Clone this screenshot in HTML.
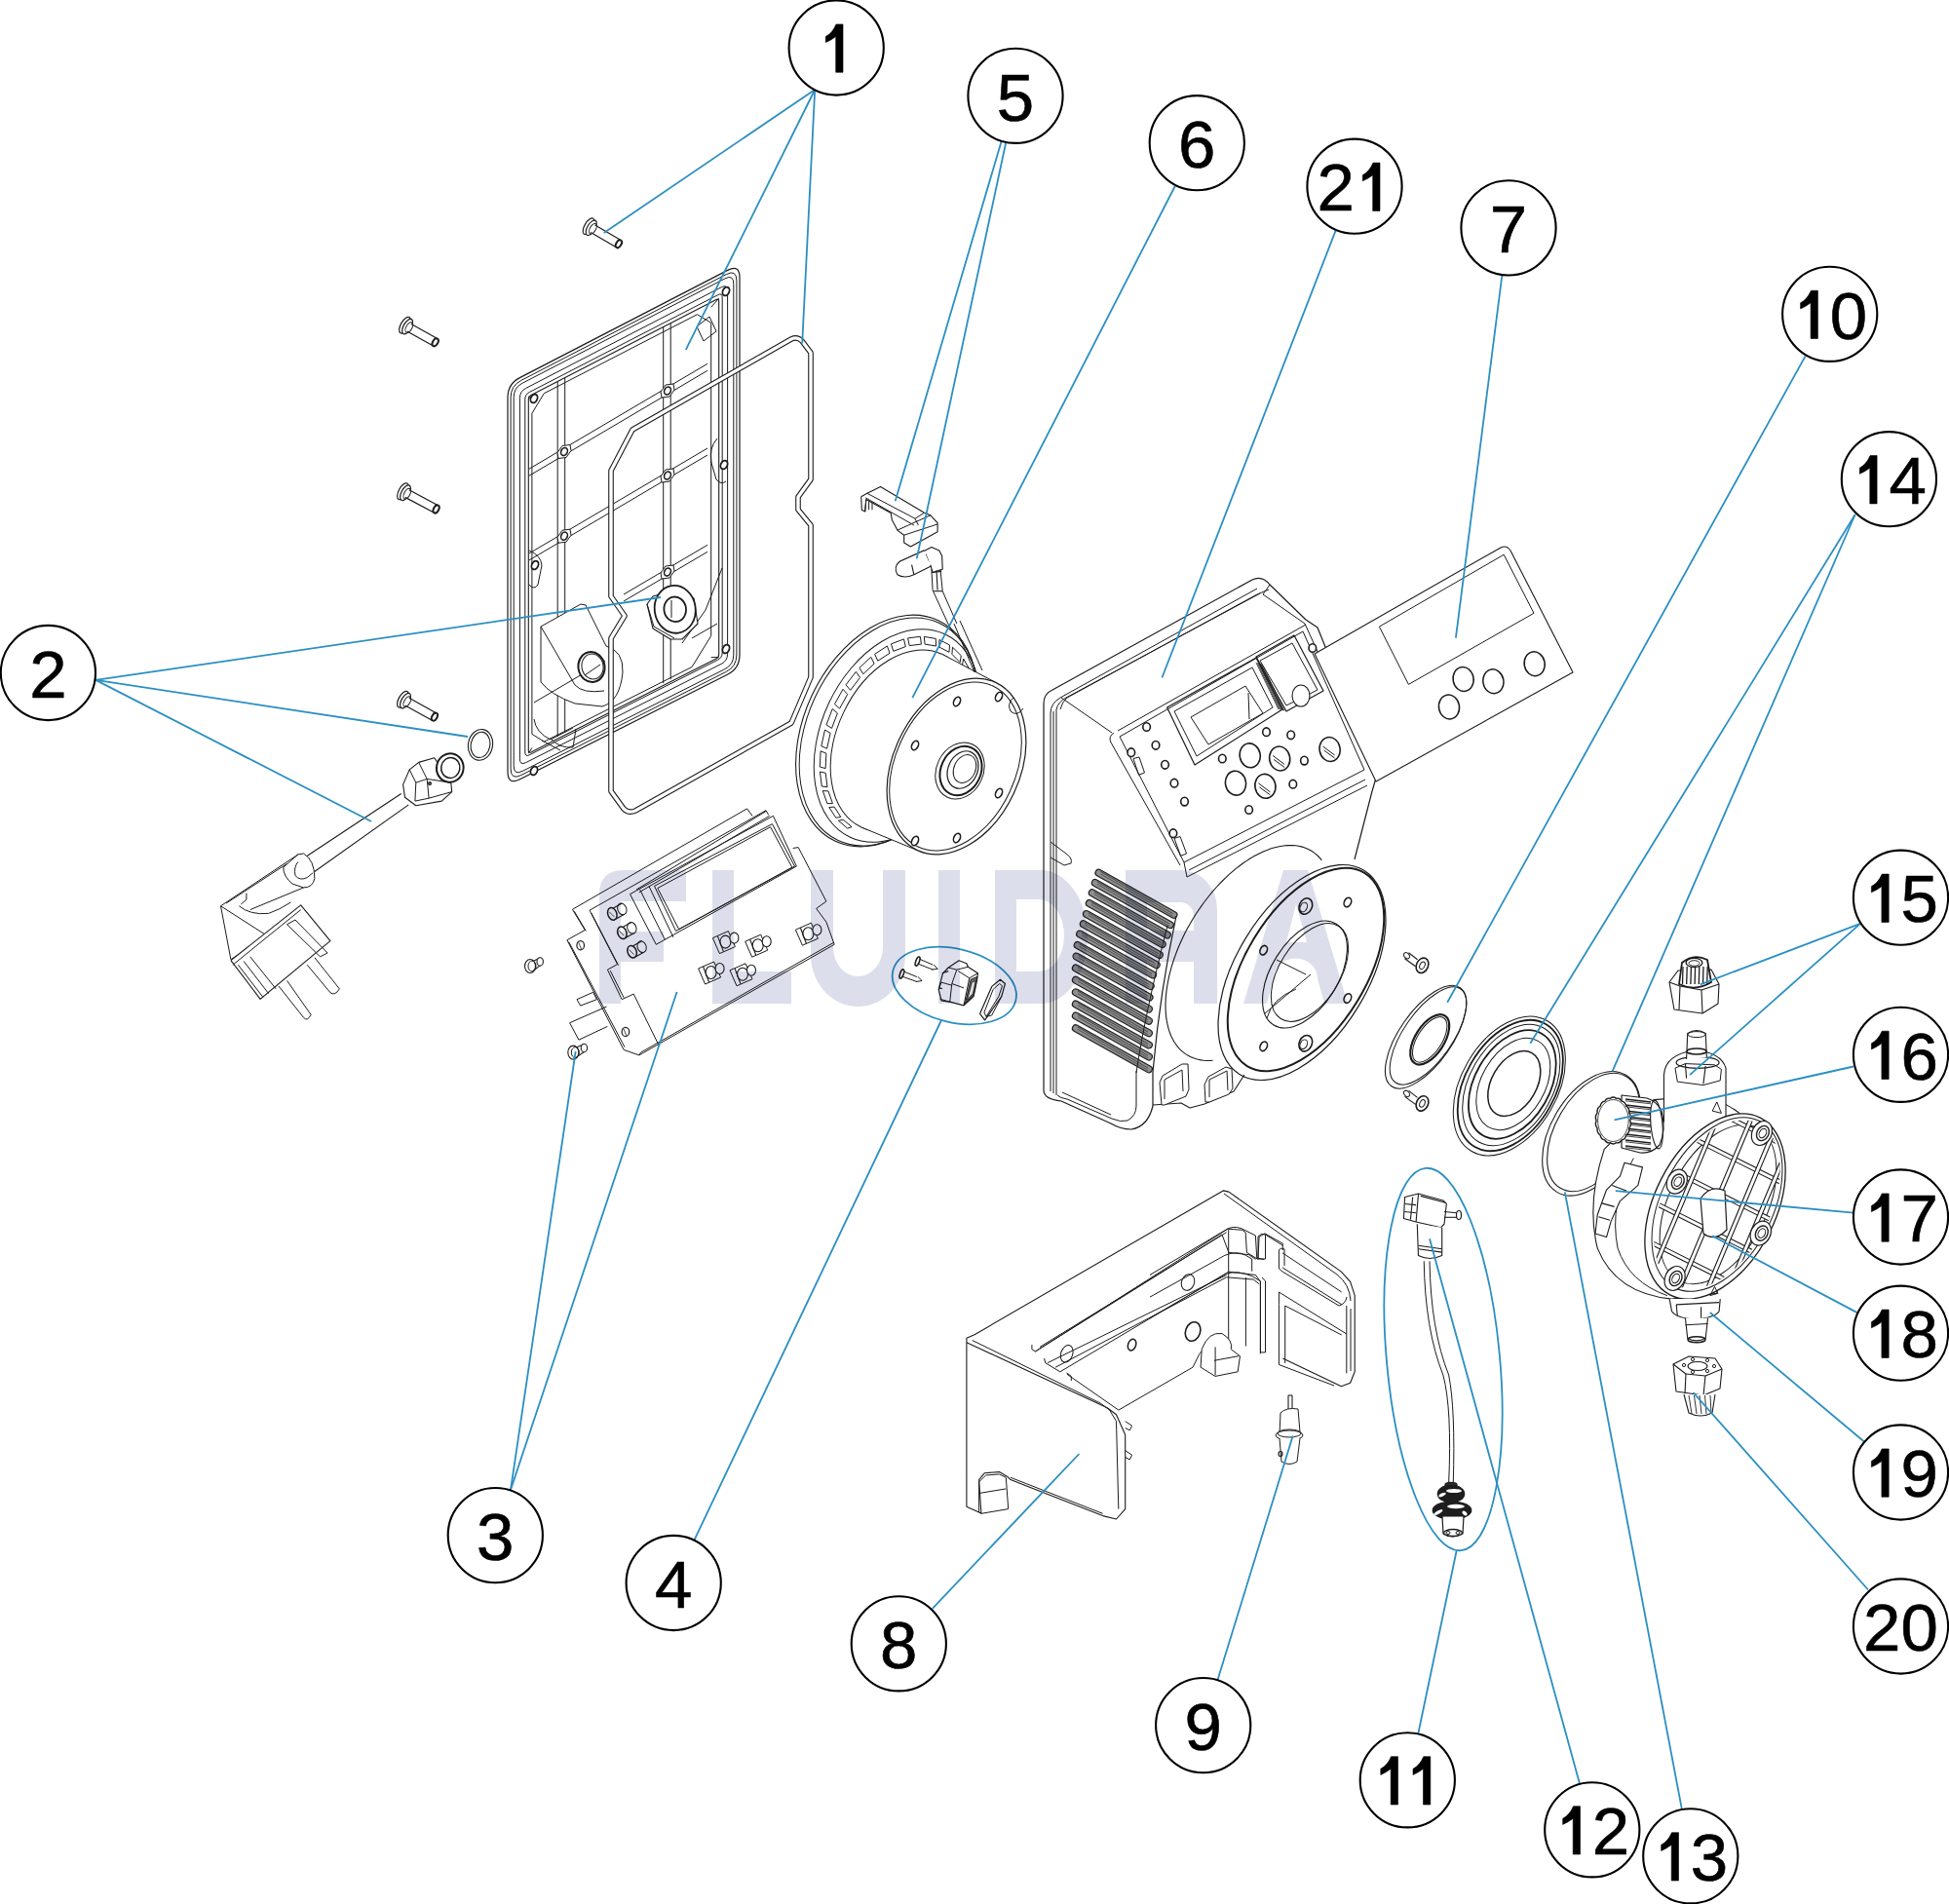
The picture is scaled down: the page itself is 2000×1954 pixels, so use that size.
<!DOCTYPE html><html><head><meta charset="utf-8"><style>html,body{margin:0;padding:0;background:#fff;}svg{display:block;}</style></head><body>
<svg xmlns="http://www.w3.org/2000/svg" width="2000" height="1954" viewBox="0 0 2000 1954" font-family="Liberation Sans">
<rect width="2000" height="1954" fill="#fff"/>
<ellipse cx="604.1" cy="232.2" rx="4.2" ry="9.3" transform="rotate(30.3890939617746 604.1 232.2)" fill="#fff" stroke="#1c1c1c" stroke-width="1.2"/>
<ellipse cx="606.7" cy="233.8" rx="4.0" ry="8.6" transform="rotate(30.3890939617746 606.7 233.8)" fill="#fff" stroke="#1c1c1c" stroke-width="1.2"/>
<ellipse cx="608.4" cy="234.8" rx="3.0" ry="5.8" transform="rotate(30.3890939617746 608.4 234.8)" fill="#fff" stroke="#1c1c1c" stroke-width="1.0"/>
<line x1="606.2" y1="238.5" x2="632.7" y2="254.0" stroke="#1c1c1c" stroke-width="1.2"/>
<line x1="610.6" y1="231.1" x2="637.1" y2="246.6" stroke="#1c1c1c" stroke-width="1.2"/>
<ellipse cx="634.9" cy="250.3" rx="2.6" ry="4.3" transform="rotate(30.3890939617746 634.9 250.3)" fill="#fff" stroke="#1c1c1c" stroke-width="2.0"/>
<ellipse cx="415.5" cy="333.7" rx="4.2" ry="9.3" transform="rotate(29.475889003245808 415.5 333.7)" fill="#fff" stroke="#1c1c1c" stroke-width="1.2"/>
<ellipse cx="418.1" cy="335.1" rx="4.0" ry="8.6" transform="rotate(29.475889003245808 418.1 335.1)" fill="#fff" stroke="#1c1c1c" stroke-width="1.2"/>
<ellipse cx="419.8" cy="336.1" rx="3.0" ry="5.8" transform="rotate(29.475889003245808 419.8 336.1)" fill="#fff" stroke="#1c1c1c" stroke-width="1.0"/>
<line x1="417.7" y1="339.9" x2="444.6" y2="355.0" stroke="#1c1c1c" stroke-width="1.2"/>
<line x1="422.0" y1="332.4" x2="448.8" y2="347.6" stroke="#1c1c1c" stroke-width="1.2"/>
<ellipse cx="446.7" cy="351.3" rx="2.6" ry="4.3" transform="rotate(29.475889003245808 446.7 351.3)" fill="#fff" stroke="#1c1c1c" stroke-width="2.0"/>
<ellipse cx="413.4" cy="504.3" rx="4.2" ry="9.3" transform="rotate(28.00917670801381 413.4 504.3)" fill="#fff" stroke="#1c1c1c" stroke-width="1.2"/>
<ellipse cx="416.0" cy="505.7" rx="4.0" ry="8.6" transform="rotate(28.00917670801381 416.0 505.7)" fill="#fff" stroke="#1c1c1c" stroke-width="1.2"/>
<ellipse cx="417.8" cy="506.6" rx="3.0" ry="5.8" transform="rotate(28.00917670801381 417.8 506.6)" fill="#fff" stroke="#1c1c1c" stroke-width="1.0"/>
<line x1="415.8" y1="510.4" x2="445.6" y2="526.3" stroke="#1c1c1c" stroke-width="1.2"/>
<line x1="419.8" y1="502.8" x2="449.6" y2="518.7" stroke="#1c1c1c" stroke-width="1.2"/>
<ellipse cx="447.6" cy="522.5" rx="2.6" ry="4.3" transform="rotate(28.00917670801381 447.6 522.5)" fill="#fff" stroke="#1c1c1c" stroke-width="2.0"/>
<ellipse cx="413.4" cy="717.7" rx="4.2" ry="9.3" transform="rotate(29.00780657652991 413.4 717.7)" fill="#fff" stroke="#1c1c1c" stroke-width="1.2"/>
<ellipse cx="416.0" cy="719.1" rx="4.0" ry="8.6" transform="rotate(29.00780657652991 416.0 719.1)" fill="#fff" stroke="#1c1c1c" stroke-width="1.2"/>
<ellipse cx="417.8" cy="720.1" rx="3.0" ry="5.8" transform="rotate(29.00780657652991 417.8 720.1)" fill="#fff" stroke="#1c1c1c" stroke-width="1.0"/>
<line x1="415.7" y1="723.9" x2="443.8" y2="739.5" stroke="#1c1c1c" stroke-width="1.2"/>
<line x1="419.8" y1="716.3" x2="448.0" y2="731.9" stroke="#1c1c1c" stroke-width="1.2"/>
<ellipse cx="445.9" cy="735.7" rx="2.6" ry="4.3" transform="rotate(29.00780657652991 445.9 735.7)" fill="#fff" stroke="#1c1c1c" stroke-width="2.0"/>
<path d="M521.0,408.0 Q521.0,394.0 533.4,387.6 L746.6,277.4 Q759.0,271.0 759.0,285.0 L759.0,672.0 Q759.0,686.0 746.5,692.3 L533.5,799.7 Q521.0,806.0 521.0,792.0 Z" fill="#fff" stroke="#1c1c1c" stroke-width="1.2" stroke-linejoin="round"/>
<path d="M524.1,407.9 Q524.1,395.9 534.8,390.4 L745.2,281.6 Q755.9,276.1 755.9,288.1 L755.9,672.0 Q755.9,684.0 745.2,689.4 L534.8,795.5 Q524.1,800.9 524.1,788.9 Z" fill="none" stroke="#1c1c1c" stroke-width="1.0" stroke-linejoin="round"/>
<path d="M527.2,407.8 Q527.2,397.8 536.1,393.2 L743.9,285.9 Q752.8,281.3 752.8,291.3 L752.8,672.1 Q752.8,682.1 743.9,686.6 L536.1,791.4 Q527.2,795.9 527.2,785.9 Z" fill="none" stroke="#1c1c1c" stroke-width="1.0" stroke-linejoin="round"/>
<path d="M533.4,408.6 Q533.4,401.6 539.7,398.4 L740.3,294.7 Q746.6,291.5 746.6,298.5 L746.6,671.2 Q746.6,678.2 740.3,681.3 L539.7,782.6 Q533.4,785.7 533.4,778.7 Z" fill="none" stroke="#1c1c1c" stroke-width="1.0" stroke-linejoin="round"/>
<path d="M538.8,409.8 Q538.8,404.8 543.2,402.5 L736.8,302.6 Q741.2,300.3 741.2,305.3 L741.2,669.8 Q741.2,674.8 736.8,677.1 L543.2,774.8 Q538.8,777.0 538.8,772.0 Z" fill="none" stroke="#1c1c1c" stroke-width="1.0" stroke-linejoin="round"/>
<path d="M542.3,410.0 Q542.3,407.0 545.0,405.6 L735.0,307.6 Q737.7,306.2 737.7,309.2 L737.7,671.6 Q737.7,674.6 735.0,676.0 L545.0,771.9 Q542.3,773.2 542.3,770.2 Z" fill="none" stroke="#1c1c1c" stroke-width="1.1" stroke-linejoin="round"/>
<polygon points="545.9,424.2 558.3,403.7 715.5,322.7 729.7,331.3 729.7,652.6 710.0,684.5 558.4,761.1 545.9,753.4" fill="none" stroke="#1c1c1c" stroke-width="1.0" stroke-linejoin="round"/>
<line x1="542.3" y1="407.0" x2="545.9" y2="410.2" stroke="#1c1c1c" stroke-width="1.0"/>
<line x1="737.7" y1="306.2" x2="729.7" y2="315.3" stroke="#1c1c1c" stroke-width="1.0"/>
<line x1="737.7" y1="674.6" x2="729.7" y2="674.6" stroke="#1c1c1c" stroke-width="1.0"/>
<line x1="542.3" y1="773.2" x2="545.9" y2="767.4" stroke="#1c1c1c" stroke-width="1.0"/>
<line x1="572.2" y1="391.9" x2="572.2" y2="755.8" stroke="#1c1c1c" stroke-width="1.0"/>
<line x1="579.7" y1="388.0" x2="579.7" y2="752.0" stroke="#1c1c1c" stroke-width="1.0"/>
<line x1="680.7" y1="336.0" x2="680.7" y2="701.0" stroke="#1c1c1c" stroke-width="1.0"/>
<line x1="688.2" y1="332.1" x2="688.2" y2="697.2" stroke="#1c1c1c" stroke-width="1.0"/>
<line x1="543.0" y1="481.2" x2="726.0" y2="373.3" stroke="#1c1c1c" stroke-width="1.0"/>
<line x1="543.0" y1="488.2" x2="726.0" y2="380.3" stroke="#1c1c1c" stroke-width="1.0"/>
<line x1="543.0" y1="567.9" x2="726.0" y2="460.0" stroke="#1c1c1c" stroke-width="1.0"/>
<line x1="543.0" y1="574.9" x2="726.0" y2="467.0" stroke="#1c1c1c" stroke-width="1.0"/>
<line x1="640.0" y1="610.0" x2="726.0" y2="559.3" stroke="#1c1c1c" stroke-width="1.0"/>
<line x1="640.0" y1="617.0" x2="726.0" y2="566.3" stroke="#1c1c1c" stroke-width="1.0"/>
<polygon points="572.0,464.5 577.0,457.5 585.0,456.5 586.0,462.5 581.0,469.5 573.0,470.5" fill="#fff" stroke="#1c1c1c" stroke-width="1.0" stroke-linejoin="round"/>
<ellipse cx="579.0" cy="463.5" rx="3.2" ry="4.2" transform="rotate(25 579.0 463.5)" fill="#fff" stroke="#1c1c1c" stroke-width="1.6"/>
<polygon points="572.0,551.2 577.0,544.2 585.0,543.2 586.0,549.2 581.0,556.2 573.0,557.2" fill="#fff" stroke="#1c1c1c" stroke-width="1.0" stroke-linejoin="round"/>
<ellipse cx="579.0" cy="550.2" rx="3.2" ry="4.2" transform="rotate(25 579.0 550.2)" fill="#fff" stroke="#1c1c1c" stroke-width="1.6"/>
<polygon points="678.0,402.0 683.0,395.0 691.0,394.0 692.0,400.0 687.0,407.0 679.0,408.0" fill="#fff" stroke="#1c1c1c" stroke-width="1.0" stroke-linejoin="round"/>
<ellipse cx="685.0" cy="401.0" rx="3.2" ry="4.2" transform="rotate(25 685.0 401.0)" fill="#fff" stroke="#1c1c1c" stroke-width="1.6"/>
<polygon points="678.0,489.0 683.0,482.0 691.0,481.0 692.0,487.0 687.0,494.0 679.0,495.0" fill="#fff" stroke="#1c1c1c" stroke-width="1.0" stroke-linejoin="round"/>
<ellipse cx="685.0" cy="488.0" rx="3.2" ry="4.2" transform="rotate(25 685.0 488.0)" fill="#fff" stroke="#1c1c1c" stroke-width="1.6"/>
<polygon points="678.0,588.0 683.0,581.0 691.0,580.0 692.0,586.0 687.0,593.0 679.0,594.0" fill="#fff" stroke="#1c1c1c" stroke-width="1.0" stroke-linejoin="round"/>
<ellipse cx="685.0" cy="587.0" rx="3.2" ry="4.2" transform="rotate(25 685.0 587.0)" fill="#fff" stroke="#1c1c1c" stroke-width="1.6"/>
<ellipse cx="548.0" cy="409.0" rx="3.3" ry="4.6" transform="rotate(25 548.0 409.0)" fill="#fff" stroke="#1c1c1c" stroke-width="1.8"/>
<ellipse cx="745.0" cy="299.0" rx="3.3" ry="4.6" transform="rotate(25 745.0 299.0)" fill="#fff" stroke="#1c1c1c" stroke-width="1.8"/>
<ellipse cx="548.0" cy="791.0" rx="3.3" ry="4.6" transform="rotate(25 548.0 791.0)" fill="#fff" stroke="#1c1c1c" stroke-width="1.8"/>
<ellipse cx="745.0" cy="666.0" rx="3.3" ry="4.6" transform="rotate(25 745.0 666.0)" fill="#fff" stroke="#1c1c1c" stroke-width="1.8"/>
<ellipse cx="549.0" cy="580.0" rx="3.3" ry="4.6" transform="rotate(25 549.0 580.0)" fill="#fff" stroke="#1c1c1c" stroke-width="1.8"/>
<ellipse cx="743.0" cy="477.0" rx="3.3" ry="4.6" transform="rotate(25 743.0 477.0)" fill="#fff" stroke="#1c1c1c" stroke-width="1.8"/>
<path d="M543,565 Q555,570 556,580 L552,600 Q548,606 543,600" fill="none" stroke="#1c1c1c" stroke-width="1.0" stroke-linejoin="round"/>
<path d="M736,450 Q727,460 730,475 L735,492 Q740,498 745,494" fill="none" stroke="#1c1c1c" stroke-width="1.0" stroke-linejoin="round"/>
<polygon points="715.0,335.0 728.0,325.0 735.0,340.0 722.0,350.0" fill="none" stroke="#1c1c1c" stroke-width="1.0" stroke-linejoin="round"/>
<path d="M555,643 L596,620 L601,621 L622,663 Q640,668 639,690 Q636,720 618,725 L590,722 Q565,713 555,700 Z" fill="#fff" stroke="#1c1c1c" stroke-width="1.0" stroke-linejoin="round"/>
<path d="M555,643 L590,703 Q598,712 620,709" fill="none" stroke="#1c1c1c" stroke-width="1.0" stroke-linejoin="round"/>
<path d="M548,721 L621,678" fill="none" stroke="#1c1c1c" stroke-width="1.0" stroke-linejoin="round"/>
<path d="M548,738 Q550,752 565,759 L588,747" fill="none" stroke="#1c1c1c" stroke-width="1.0" stroke-linejoin="round"/>
<path d="M566,759 Q575,768 588,767 L591,748" fill="none" stroke="#1c1c1c" stroke-width="1.0" stroke-linejoin="round"/>
<line x1="556.0" y1="760.0" x2="575.0" y2="770.0" stroke="#1c1c1c" stroke-width="1.0"/>
<ellipse cx="607.0" cy="684.5" rx="13.5" ry="15.5" transform="rotate(-10 607.0 684.5)" fill="#fff" stroke="#1c1c1c" stroke-width="2.0"/>
<ellipse cx="608.0" cy="684.0" rx="11.0" ry="13.0" transform="rotate(-10 608.0 684.0)" fill="none" stroke="#1c1c1c" stroke-width="1.0"/>
<line x1="600.0" y1="693.0" x2="616.0" y2="682.0" stroke="#1c1c1c" stroke-width="1.0"/>
<path d="M741,583 L724,626 L700,660" fill="none" stroke="#1c1c1c" stroke-width="1.0" stroke-linejoin="round"/>
<path d="M710,655 L736,640" fill="none" stroke="#1c1c1c" stroke-width="1.0" stroke-linejoin="round"/>
<path d="M664,620 L670,612 L690,606 L712,614 L716,640 L700,656 L688,656 L670,645 Z" fill="#fff" stroke="#1c1c1c" stroke-width="1.1" stroke-linejoin="round"/>
<line x1="664.0" y1="620.0" x2="671.0" y2="643.0" stroke="#1c1c1c" stroke-width="1.0"/>
<line x1="671.0" y1="643.0" x2="692.0" y2="655.0" stroke="#1c1c1c" stroke-width="1.0"/>
<ellipse cx="692.7" cy="625.3" rx="21.0" ry="24.5" transform="rotate(-8 692.7 625.3)" fill="#fff" stroke="#1c1c1c" stroke-width="1.8"/>
<ellipse cx="692.7" cy="625.3" rx="11.3" ry="12.8" transform="rotate(-8 692.7 625.3)" fill="#fff" stroke="#1c1c1c" stroke-width="1.8"/>
<line x1="689.0" y1="616.0" x2="689.0" y2="634.0" stroke="#1c1c1c" stroke-width="1.0"/>
<path d="M649,441 L812,348 Q818,345 823,350 L832,362 L832,492 L819,510 L819,523 L832,539 L832,695 L812,742 L652,832 Q645,835 640,830 L627,812 L627,655 L641,632 L627,612 L627,483 Z" fill="none" stroke="#1c1c1c" stroke-width="5.6" stroke-linejoin="round" stroke-linecap="round"/>
<path d="M649,441 L812,348 Q818,345 823,350 L832,362 L832,492 L819,510 L819,523 L832,539 L832,695 L812,742 L652,832 Q645,835 640,830 L627,812 L627,655 L641,632 L627,612 L627,483 Z" fill="none" stroke="#fff" stroke-width="3.4" stroke-linejoin="round" stroke-linecap="round"/>
<ellipse cx="493.0" cy="764.4" rx="12.5" ry="16.0" transform="rotate(10 493.0 764.4)" fill="none" stroke="#1c1c1c" stroke-width="1.1"/>
<ellipse cx="493.0" cy="764.4" rx="9.8" ry="13.2" transform="rotate(10 493.0 764.4)" fill="none" stroke="#1c1c1c" stroke-width="1.1"/>
<polygon points="413.6,805.1 420.2,789.9 429.7,782.4 445.7,777.7 462.8,803.2 463.7,812.6 453.3,822.1 426.8,826.8 415.5,818.3" fill="#fff" stroke="#1c1c1c" stroke-width="1.1" stroke-linejoin="round"/>
<polyline points="420.2,789.9 426.8,803.2 425.9,822.1" fill="none" stroke="#1c1c1c" stroke-width="1.0" stroke-linejoin="round"/>
<polyline points="429.7,782.4 438.2,799.4 440.1,819.2" fill="none" stroke="#1c1c1c" stroke-width="1.0" stroke-linejoin="round"/>
<polyline points="426.8,803.2 438.2,799.4 462.8,803.2" fill="none" stroke="#1c1c1c" stroke-width="1.0" stroke-linejoin="round"/>
<polyline points="425.9,822.1 440.1,819.2 463.7,812.6" fill="none" stroke="#1c1c1c" stroke-width="1.0" stroke-linejoin="round"/>
<ellipse cx="441.0" cy="804.1" rx="1.3" ry="1.3" transform="rotate(0 441.0 804.1)" fill="none" stroke="#1c1c1c" stroke-width="1.5"/>
<ellipse cx="461.8" cy="788.0" rx="13.8" ry="14.8" transform="rotate(10 461.8 788.0)" fill="#fff" stroke="#1c1c1c" stroke-width="2.0"/>
<ellipse cx="462.3" cy="788.0" rx="9.6" ry="10.5" transform="rotate(10 462.3 788.0)" fill="#fff" stroke="#1c1c1c" stroke-width="1.5"/>
<line x1="411.7" y1="814.5" x2="305.9" y2="884.5" stroke="#1c1c1c" stroke-width="1.1"/>
<line x1="419.3" y1="825.9" x2="321.0" y2="895.8" stroke="#1c1c1c" stroke-width="1.1"/>
<path d="M305.86011342155007,876.8998109640831 L311.531190926276,875.9546313799622 Q322.8733459357278,882.570888468809 322.8733459357278,901.4744801512287 Q320.98298676748584,910.9262759924386 311.531190926276,910.9262759924386 L300.1890359168242,907.1455576559547 Q290.73724007561435,899.5841209829867 290.73724007561435,890.132325141777 Z" fill="#fff" stroke="#1c1c1c" stroke-width="1.0" stroke-linejoin="round"/>
<path d="M305.86011342155007,884.461247637051 Q301.1342155009452,890.132325141777 303.02457466918713,898.6389413988658 Q307.750472589792,904.3100189035916 315.3119092627599,900.5293005671077 L320.98298676748584,895.8034026465028" fill="none" stroke="#1c1c1c" stroke-width="1.0" stroke-linejoin="round"/>
<polyline points="226.5,929.8 305.9,876.9" fill="none" stroke="#1c1c1c" stroke-width="1.0" stroke-linejoin="round"/>
<polyline points="232.1,927.0 294.5,886.4" fill="none" stroke="#1c1c1c" stroke-width="1.0" stroke-linejoin="round"/>
<polyline points="252.9,916.6 252.9,923.2 247.3,927.9" fill="none" stroke="#1c1c1c" stroke-width="1.0" stroke-linejoin="round"/>
<polyline points="256.7,933.6 311.5,910.9" fill="none" stroke="#1c1c1c" stroke-width="1.0" stroke-linejoin="round"/>
<path d="M245.36862003780718,929.8298676748582 Q256.71077504725895,939.2816635160681 275.61436672967864,937.3913043478261 Q286.95652173913044,933.6105860113421 298.29867674858224,926.0491493383743" fill="none" stroke="#1c1c1c" stroke-width="1.0" stroke-linejoin="round"/>
<polyline points="226.5,929.8 236.9,984.7 273.7,960.1 226.5,929.8" fill="none" stroke="#1c1c1c" stroke-width="1.0" stroke-linejoin="round"/>
<polyline points="236.9,985.6 308.7,928.9 338.9,965.7 267.1,1025.3 236.9,985.6" fill="#fff" stroke="#1c1c1c" stroke-width="1.1" stroke-linejoin="round"/>
<polyline points="238.8,990.3 308.7,933.6" fill="none" stroke="#1c1c1c" stroke-width="1.0" stroke-linejoin="round"/>
<polyline points="244.4,990.3 269.9,1023.4" fill="none" stroke="#1c1c1c" stroke-width="1.0" stroke-linejoin="round"/>
<polyline points="250.1,986.5 275.6,1019.6" fill="none" stroke="#1c1c1c" stroke-width="1.0" stroke-linejoin="round"/>
<polyline points="256.7,981.8 283.2,1014.9" fill="none" stroke="#1c1c1c" stroke-width="1.0" stroke-linejoin="round"/>
<polyline points="294.5,948.7 303.0,944.0 336.1,978.0 328.5,981.8 294.5,948.7" fill="none" stroke="#1c1c1c" stroke-width="1.0" stroke-linejoin="round"/>
<path d="M286.01134215500946,1012.0604914933838 L311.531190926276,1044.196597353497 Q315.3119092627599,1048.922495274102 319.0926275992439,1041.3610586011341 L294.5179584120983,1006.3894139886579" fill="#fff" stroke="#1c1c1c" stroke-width="1.0" stroke-linejoin="round"/>
<path d="M315.3119092627599,990.3213610586012 L338.9413988657845,1018.6767485822306 Q343.66729678638944,1022.4574669187145 348.39319470699434,1014.8960302457467 L322.8733459357278,982.7599243856332" fill="#fff" stroke="#1c1c1c" stroke-width="1.0" stroke-linejoin="round"/>
<polyline points="813.7,870.5 819.2,869.6 847.9,925.0 837.7,932.4 847.9,946.2 856.2,969.3 655.8,1082.9 640.1,1077.4 581.9,964.7 600.3,954.5 587.4,933.3 766.6,829.9 772.1,837.3" fill="none" stroke="#1c1c1c" stroke-width="1.0" stroke-linejoin="round"/>
<polyline points="583.7,966.6 641.0,1074.6" fill="none" stroke="#1c1c1c" stroke-width="1.0" stroke-linejoin="round"/>
<polyline points="589.3,935.2 601.3,955.5" fill="none" stroke="#1c1c1c" stroke-width="1.0" stroke-linejoin="round"/>
<polyline points="655.8,1082.9 657.6,1080.1 855.2,967.5" fill="none" stroke="#1c1c1c" stroke-width="1.0" stroke-linejoin="round"/>
<polyline points="786.0,831.7 605.0,934.2 633.6,989.6 623.4,995.2 638.2,1025.7 650.2,1020.1 676.1,1072.8" fill="none" stroke="#1c1c1c" stroke-width="1.0" stroke-linejoin="round"/>
<polyline points="606.8,937.0 634.5,990.6" fill="none" stroke="#1c1c1c" stroke-width="1.0" stroke-linejoin="round"/>
<polyline points="626.2,996.1 640.1,1023.8" fill="none" stroke="#1c1c1c" stroke-width="1.0" stroke-linejoin="round"/>
<polyline points="786.0,831.7 788.7,836.3" fill="none" stroke="#1c1c1c" stroke-width="1.0" stroke-linejoin="round"/>
<polyline points="646.5,917.6 793.4,837.3 817.4,889.0 673.3,969.3 646.5,917.6" fill="none" stroke="#1c1c1c" stroke-width="1.0" stroke-linejoin="round"/>
<polyline points="653.0,913.0 786.0,832.6" fill="none" stroke="#1c1c1c" stroke-width="1.0" stroke-linejoin="round"/>
<polyline points="655.8,915.8 789.7,837.3" fill="none" stroke="#1c1c1c" stroke-width="1.0" stroke-linejoin="round"/>
<polyline points="656.7,913.0 682.5,964.7" fill="none" stroke="#1c1c1c" stroke-width="1.0" stroke-linejoin="round"/>
<polyline points="665.9,909.3 690.9,961.9" fill="none" stroke="#1c1c1c" stroke-width="1.0" stroke-linejoin="round"/>
<polyline points="671.5,909.3 792.4,845.6 815.5,889.0 693.6,955.5 671.5,909.3" fill="none" stroke="#1c1c1c" stroke-width="1.0" stroke-linejoin="round"/>
<polyline points="674.8,911.5 790.6,848.7 812.8,890.1 696.6,953.6 674.8,911.5" fill="none" stroke="#1c1c1c" stroke-width="1.0" stroke-linejoin="round"/>
<ellipse cx="628.3" cy="937.9" rx="4.5" ry="6.5" transform="rotate(-20 628.3 937.9)" fill="#fff" stroke="#1c1c1c" stroke-width="1.5"/>
<ellipse cx="638.3" cy="932.9" rx="4.5" ry="6.0" transform="rotate(-20 638.3 932.9)" fill="#fff" stroke="#1c1c1c" stroke-width="1.0"/>
<line x1="629.3" y1="931.9" x2="638.3" y2="926.9" stroke="#1c1c1c" stroke-width="1.1"/>
<line x1="631.3" y1="943.4" x2="640.3" y2="938.4" stroke="#1c1c1c" stroke-width="1.1"/>
<line x1="625.3" y1="935.9" x2="630.3" y2="940.9" stroke="#1c1c1c" stroke-width="0.8"/>
<ellipse cx="638.4" cy="957.3" rx="4.5" ry="6.5" transform="rotate(-20 638.4 957.3)" fill="#fff" stroke="#1c1c1c" stroke-width="1.5"/>
<ellipse cx="648.4" cy="952.3" rx="4.5" ry="6.0" transform="rotate(-20 648.4 952.3)" fill="#fff" stroke="#1c1c1c" stroke-width="1.0"/>
<line x1="639.4" y1="951.3" x2="648.4" y2="946.3" stroke="#1c1c1c" stroke-width="1.1"/>
<line x1="641.4" y1="962.8" x2="650.4" y2="957.8" stroke="#1c1c1c" stroke-width="1.1"/>
<line x1="635.4" y1="955.3" x2="640.4" y2="960.3" stroke="#1c1c1c" stroke-width="0.8"/>
<ellipse cx="648.6" cy="976.7" rx="4.5" ry="6.5" transform="rotate(-20 648.6 976.7)" fill="#fff" stroke="#1c1c1c" stroke-width="1.5"/>
<ellipse cx="658.6" cy="971.7" rx="4.5" ry="6.0" transform="rotate(-20 658.6 971.7)" fill="#fff" stroke="#1c1c1c" stroke-width="1.0"/>
<line x1="649.6" y1="970.7" x2="658.6" y2="965.7" stroke="#1c1c1c" stroke-width="1.1"/>
<line x1="651.6" y1="982.2" x2="660.6" y2="977.2" stroke="#1c1c1c" stroke-width="1.1"/>
<line x1="645.6" y1="974.7" x2="650.6" y2="979.7" stroke="#1c1c1c" stroke-width="0.8"/>
<polygon points="731.4,962.6 747.4,955.6 754.4,971.6 738.4,978.6" fill="none" stroke="#1c1c1c" stroke-width="1.0" stroke-linejoin="round"/>
<line x1="736.4" y1="960.6" x2="742.4" y2="976.6" stroke="#1c1c1c" stroke-width="1.1"/>
<ellipse cx="744.4" cy="966.6" rx="5.5" ry="6.5" transform="rotate(0 744.4 966.6)" fill="none" stroke="#1c1c1c" stroke-width="1.1"/>
<ellipse cx="753.4" cy="962.6" rx="4.5" ry="5.5" transform="rotate(0 753.4 962.6)" fill="#fff" stroke="#1c1c1c" stroke-width="1.1"/>
<polygon points="764.7,966.2 780.7,959.2 787.7,975.2 771.7,982.2" fill="none" stroke="#1c1c1c" stroke-width="1.0" stroke-linejoin="round"/>
<line x1="769.7" y1="964.2" x2="775.7" y2="980.2" stroke="#1c1c1c" stroke-width="1.1"/>
<ellipse cx="777.7" cy="970.2" rx="5.5" ry="6.5" transform="rotate(0 777.7 970.2)" fill="none" stroke="#1c1c1c" stroke-width="1.1"/>
<ellipse cx="786.7" cy="966.2" rx="4.5" ry="5.5" transform="rotate(0 786.7 966.2)" fill="#fff" stroke="#1c1c1c" stroke-width="1.1"/>
<polygon points="816.4,954.2 832.4,947.2 839.4,963.2 823.4,970.2" fill="none" stroke="#1c1c1c" stroke-width="1.0" stroke-linejoin="round"/>
<line x1="821.4" y1="952.2" x2="827.4" y2="968.2" stroke="#1c1c1c" stroke-width="1.1"/>
<ellipse cx="829.4" cy="958.2" rx="5.5" ry="6.5" transform="rotate(0 829.4 958.2)" fill="none" stroke="#1c1c1c" stroke-width="1.1"/>
<ellipse cx="838.4" cy="954.2" rx="4.5" ry="5.5" transform="rotate(0 838.4 954.2)" fill="#fff" stroke="#1c1c1c" stroke-width="1.1"/>
<polygon points="716.6,994.0 732.6,987.0 739.6,1003.0 723.6,1010.0" fill="none" stroke="#1c1c1c" stroke-width="1.0" stroke-linejoin="round"/>
<line x1="721.6" y1="992.0" x2="727.6" y2="1008.0" stroke="#1c1c1c" stroke-width="1.1"/>
<ellipse cx="729.6" cy="998.0" rx="5.5" ry="6.5" transform="rotate(0 729.6 998.0)" fill="none" stroke="#1c1c1c" stroke-width="1.1"/>
<ellipse cx="738.6" cy="994.0" rx="4.5" ry="5.5" transform="rotate(0 738.6 994.0)" fill="#fff" stroke="#1c1c1c" stroke-width="1.1"/>
<polygon points="749.0,995.8 765.0,988.8 772.0,1004.8 756.0,1011.8" fill="none" stroke="#1c1c1c" stroke-width="1.0" stroke-linejoin="round"/>
<line x1="754.0" y1="993.8" x2="760.0" y2="1009.8" stroke="#1c1c1c" stroke-width="1.1"/>
<ellipse cx="762.0" cy="999.8" rx="5.5" ry="6.5" transform="rotate(0 762.0 999.8)" fill="none" stroke="#1c1c1c" stroke-width="1.1"/>
<ellipse cx="771.0" cy="995.8" rx="4.5" ry="5.5" transform="rotate(0 771.0 995.8)" fill="#fff" stroke="#1c1c1c" stroke-width="1.1"/>
<ellipse cx="595.7" cy="970.2" rx="3.8" ry="4.6" transform="rotate(0 595.7 970.2)" fill="none" stroke="#1c1c1c" stroke-width="1.2"/>
<line x1="593.7" y1="967.2" x2="596.7" y2="974.2" stroke="#1c1c1c" stroke-width="0.8"/>
<ellipse cx="641.9" cy="1058.9" rx="3.8" ry="4.6" transform="rotate(0 641.9 1058.9)" fill="none" stroke="#1c1c1c" stroke-width="1.2"/>
<line x1="639.9" y1="1055.9" x2="642.9" y2="1062.9" stroke="#1c1c1c" stroke-width="0.8"/>
<polyline points="592.0,1025.7 608.7,1018.3 612.4,1025.7 595.7,1032.1 592.0,1025.7" fill="none" stroke="#1c1c1c" stroke-width="1.0" stroke-linejoin="round"/>
<polyline points="622.5,1033.0 584.6,1049.7 593.9,1067.2 623.4,1053.4" fill="none" stroke="#1c1c1c" stroke-width="1.0" stroke-linejoin="round"/>
<ellipse cx="544.0" cy="991.5" rx="5.5" ry="7.0" transform="rotate(0 544.0 991.5)" fill="#fff" stroke="#1c1c1c" stroke-width="1.1"/>
<ellipse cx="546.0" cy="991.5" rx="4.0" ry="5.5" transform="rotate(0 546.0 991.5)" fill="none" stroke="#1c1c1c" stroke-width="1.0"/>
<line x1="547.0" y1="986.5" x2="554.2" y2="982.9" stroke="#1c1c1c" stroke-width="1.1"/>
<line x1="547.0" y1="996.5" x2="554.2" y2="990.9" stroke="#1c1c1c" stroke-width="1.1"/>
<ellipse cx="554.2" cy="986.9" rx="3.2" ry="4.2" transform="rotate(0 554.2 986.9)" fill="#fff" stroke="#1c1c1c" stroke-width="1.1"/>
<ellipse cx="588.3" cy="1080.1" rx="5.5" ry="7.0" transform="rotate(0 588.3 1080.1)" fill="#fff" stroke="#1c1c1c" stroke-width="1.1"/>
<ellipse cx="590.3" cy="1080.1" rx="4.0" ry="5.5" transform="rotate(0 590.3 1080.1)" fill="none" stroke="#1c1c1c" stroke-width="1.0"/>
<line x1="591.3" y1="1075.1" x2="599.4" y2="1071.5" stroke="#1c1c1c" stroke-width="1.1"/>
<line x1="591.3" y1="1085.1" x2="599.4" y2="1079.5" stroke="#1c1c1c" stroke-width="1.1"/>
<ellipse cx="599.4" cy="1075.5" rx="3.2" ry="4.2" transform="rotate(0 599.4 1075.5)" fill="#fff" stroke="#1c1c1c" stroke-width="1.1"/>
<ellipse cx="979.3" cy="1011.5" rx="64.8" ry="37.7" transform="rotate(13.7 979.3 1011.5)" fill="none" stroke="#2b8fc2" stroke-width="1.8"/>
<ellipse cx="941.6" cy="986.6" rx="1.8" ry="4.8" transform="rotate(20.790725274414843 941.6 986.6)" fill="#fff" stroke="#1c1c1c" stroke-width="1.6"/>
<line x1="941.7" y1="989.0" x2="957.3" y2="995.1" stroke="#1c1c1c" stroke-width="1.0"/>
<line x1="943.5" y1="984.2" x2="957.3" y2="990.2" stroke="#1c1c1c" stroke-width="1.0"/>
<path d="M956.4,995.1 L962.3,994.2 L958.2,990.3" fill="none" stroke="#1c1c1c" stroke-width="1.0" stroke-linejoin="round"/>
<ellipse cx="925.4" cy="999.5" rx="1.8" ry="4.8" transform="rotate(19.167123400485774 925.4 999.5)" fill="#fff" stroke="#1c1c1c" stroke-width="1.6"/>
<line x1="925.5" y1="1002.0" x2="941.1" y2="1007.5" stroke="#1c1c1c" stroke-width="1.0"/>
<line x1="927.3" y1="997.0" x2="941.1" y2="1002.6" stroke="#1c1c1c" stroke-width="1.0"/>
<path d="M940.2,1007.5 L946.1,1006.5 L942.0,1002.5" fill="none" stroke="#1c1c1c" stroke-width="1.0" stroke-linejoin="round"/>
<polyline points="967.5,998.8 973.2,993.0 984.0,985.8 991.9,988.7 993.3,992.3 1003.4,998.8 1002.7,1005.2 999.1,1022.5 989.0,1031.8 974.7,1028.2 966.0,1026.8 963.2,1015.3 967.5,998.8" fill="#fff" stroke="#1c1c1c" stroke-width="1.2" stroke-linejoin="round"/>
<polyline points="973.2,993.0 981.8,995.2 976.8,1009.5 974.7,1028.2" fill="none" stroke="#1c1c1c" stroke-width="1.0" stroke-linejoin="round"/>
<polyline points="981.8,995.2 993.3,992.3" fill="none" stroke="#1c1c1c" stroke-width="1.0" stroke-linejoin="round"/>
<polyline points="983.3,996.6 994.8,1003.8 1003.4,998.8" fill="none" stroke="#1c1c1c" stroke-width="1.0" stroke-linejoin="round"/>
<polyline points="994.8,1003.8 989.0,1031.8" fill="none" stroke="#1c1c1c" stroke-width="1.1" stroke-linejoin="round"/>
<polyline points="976.8,1009.5 989.0,1013.9" fill="none" stroke="#1c1c1c" stroke-width="1.0" stroke-linejoin="round"/>
<polyline points="966.0,1008.1 976.1,1011.0" fill="none" stroke="#1c1c1c" stroke-width="1.0" stroke-linejoin="round"/>
<polyline points="966.0,1008.1 963.2,1015.3" fill="none" stroke="#1c1c1c" stroke-width="1.0" stroke-linejoin="round"/>
<polyline points="964.6,1025.3 974.7,1028.2" fill="none" stroke="#1c1c1c" stroke-width="1.0" stroke-linejoin="round"/>
<polyline points="996.2,1005.2 1002.7,1002.4 999.1,1021.0 990.5,1029.7 996.2,1005.2" fill="#6a6a6a" stroke="#1c1c1c" stroke-width="1.0" stroke-linejoin="round"/>
<polyline points="997.3,1008.1 1001.2,1006.7 998.4,1019.6 992.6,1026.1 997.3,1008.1" fill="#ddd" stroke="#1c1c1c" stroke-width="0.8" stroke-linejoin="round"/>
<line x1="966.8" y1="998.8" x2="973.2" y2="996.6" stroke="#1c1c1c" stroke-width="1.2"/>
<line x1="963.2" y1="1013.9" x2="966.8" y2="1014.6" stroke="#1c1c1c" stroke-width="1.2"/>
<polyline points="1005.5,1040.4 1017.8,1012.4 1026.4,1005.2 1031.4,1009.5 1027.8,1022.5 1010.6,1046.9 1005.5,1040.4" fill="#fff" stroke="#1c1c1c" stroke-width="1.2" stroke-linejoin="round"/>
<polyline points="1009.9,1039.0 1019.2,1015.3 1025.7,1009.5 1028.5,1011.7 1024.9,1022.5 1012.0,1043.3 1009.9,1039.0" fill="none" stroke="#1c1c1c" stroke-width="1.0" stroke-linejoin="round"/>
<polyline points="1012.0,1043.3 1017.8,1041.9 1027.8,1022.5" fill="none" stroke="#1c1c1c" stroke-width="1.0" stroke-linejoin="round"/>
<ellipse cx="910.0" cy="750.0" rx="85.0" ry="125.0" transform="rotate(25 910.0 750.0)" fill="#fff" stroke="#1c1c1c" stroke-width="1.1"/>
<ellipse cx="912.0" cy="751.0" rx="83.5" ry="123.0" transform="rotate(25 912.0 751.0)" fill="none" stroke="#1c1c1c" stroke-width="1.0"/>
<ellipse cx="921.0" cy="755.0" rx="78.0" ry="115.0" transform="rotate(25 921.0 755.0)" fill="none" stroke="#1c1c1c" stroke-width="1.0"/>
<ellipse cx="925.0" cy="760.0" rx="66.0" ry="98.0" transform="rotate(25 925.0 760.0)" fill="none" stroke="#1c1c1c" stroke-width="1.0"/>
<polygon points="869.6,850.1 874.1,848.7 865.3,841.2 860.4,842.2" fill="none" stroke="#1c1c1c" stroke-width="1.0" stroke-linejoin="round"/>
<polygon points="857.8,839.3 862.8,838.4 856.1,828.1 850.8,828.5" fill="none" stroke="#1c1c1c" stroke-width="1.0" stroke-linejoin="round"/>
<polygon points="848.9,824.7 854.4,824.5 850.0,811.9 844.3,811.5" fill="none" stroke="#1c1c1c" stroke-width="1.0" stroke-linejoin="round"/>
<polygon points="843.3,807.0 849.0,807.7 847.2,793.3 841.4,792.0" fill="none" stroke="#1c1c1c" stroke-width="1.0" stroke-linejoin="round"/>
<polygon points="841.3,787.0 847.1,788.6 847.9,773.2 842.1,770.8" fill="none" stroke="#1c1c1c" stroke-width="1.0" stroke-linejoin="round"/>
<polygon points="842.8,765.7 848.6,768.2 852.1,752.4 846.5,749.0" fill="none" stroke="#1c1c1c" stroke-width="1.0" stroke-linejoin="round"/>
<polygon points="848.0,743.8 853.5,747.4 859.4,731.9 854.2,727.5" fill="none" stroke="#1c1c1c" stroke-width="1.0" stroke-linejoin="round"/>
<polygon points="856.5,722.6 861.6,727.1 869.7,712.6 865.0,707.3" fill="none" stroke="#1c1c1c" stroke-width="1.0" stroke-linejoin="round"/>
<polygon points="868.0,702.8 872.6,708.3 882.5,695.4 878.4,689.3" fill="none" stroke="#1c1c1c" stroke-width="1.0" stroke-linejoin="round"/>
<polygon points="881.9,685.4 885.8,691.7 897.1,681.1 893.7,674.3" fill="none" stroke="#1c1c1c" stroke-width="1.0" stroke-linejoin="round"/>
<polygon points="897.6,671.3 900.8,678.2 913.0,670.3 910.4,663.0" fill="none" stroke="#1c1c1c" stroke-width="1.0" stroke-linejoin="round"/>
<polygon points="914.4,660.9 916.8,668.3 929.3,663.6 927.5,655.9" fill="none" stroke="#1c1c1c" stroke-width="1.0" stroke-linejoin="round"/>
<polygon points="931.6,654.9 933.2,662.6 945.4,661.1 944.4,653.3" fill="none" stroke="#1c1c1c" stroke-width="1.0" stroke-linejoin="round"/>
<polygon points="948.3,653.4 949.1,661.1 960.5,663.0 960.3,655.4" fill="none" stroke="#1c1c1c" stroke-width="1.0" stroke-linejoin="round"/>
<polygon points="963.9,656.5 963.9,664.1 974.0,669.3 974.5,662.0" fill="none" stroke="#1c1c1c" stroke-width="1.0" stroke-linejoin="round"/>
<polygon points="977.5,664.2 976.9,671.4 985.2,679.7 986.3,672.8" fill="none" stroke="#1c1c1c" stroke-width="1.0" stroke-linejoin="round"/>
<polygon points="988.6,676.0 987.5,682.7 993.7,693.6 995.1,687.4" fill="none" stroke="#1c1c1c" stroke-width="1.0" stroke-linejoin="round"/>
<polygon points="966.5,671.2 1021.7,700.4 1021.7,700.4 1024.8,702.0 1027.7,703.8 1030.4,705.8 1033.1,708.1 1035.6,710.5 1038.0,713.2 1040.2,716.0 1042.2,719.1 1044.1,722.4 1045.8,725.8 1047.3,729.4 1048.6,733.1 1049.8,737.0 1050.8,741.0 1051.6,745.2 1052.2,749.4 1052.6,753.8 1052.8,758.2 1052.8,762.8 1052.6,767.4 1052.2,772.0 1051.6,776.7 1050.9,781.4 1049.9,786.2 1048.8,790.9 1047.4,795.6 1045.9,800.3 1044.2,805.0 1042.4,809.6 1040.3,814.1 1038.2,818.6 1035.8,822.9 1033.3,827.2 1030.7,831.4 1027.9,835.4 1025.0,839.3 1022.0,843.1 1018.9,846.7 1015.7,850.2 1012.3,853.4 1008.9,856.5 1005.5,859.4 1001.9,862.1 998.3,864.6 994.7,866.9 991.0,868.9 987.3,870.7 983.5,872.3 979.8,873.7 976.1,874.8 972.4,875.7 968.7,876.3 965.0,876.7 961.4,876.9 957.9,876.8 954.4,876.4 951.0,875.8 947.6,875.0 944.4,873.9 941.3,872.6 883.5,848.8" fill="#fff" stroke="none" stroke-width="0" stroke-linejoin="round"/>
<line x1="966.5" y1="671.2" x2="1021.7" y2="700.4" stroke="#1c1c1c" stroke-width="1.0"/>
<line x1="883.5" y1="848.8" x2="941.3" y2="872.6" stroke="#1c1c1c" stroke-width="1.0"/>
<ellipse cx="981.5" cy="786.5" rx="65.0" ry="95.0" transform="rotate(25 981.5 786.5)" fill="#fff" stroke="#1c1c1c" stroke-width="1.2"/>
<ellipse cx="980.5" cy="786.5" rx="61.5" ry="91.0" transform="rotate(25 980.5 786.5)" fill="none" stroke="#1c1c1c" stroke-width="1.0"/>
<path d="M1040,716 Q1033,722 1037,730 Q1044,736 1050,727" fill="none" stroke="#1c1c1c" stroke-width="1.0" stroke-linejoin="round"/>
<ellipse cx="985.0" cy="791.0" rx="24.0" ry="30.0" transform="rotate(25 985.0 791.0)" fill="none" stroke="#1c1c1c" stroke-width="1.0"/>
<ellipse cx="986.0" cy="791.0" rx="20.5" ry="26.0" transform="rotate(25 986.0 791.0)" fill="none" stroke="#1c1c1c" stroke-width="2.0"/>
<ellipse cx="988.0" cy="790.0" rx="15.0" ry="20.0" transform="rotate(25 988.0 790.0)" fill="none" stroke="#1c1c1c" stroke-width="1.2"/>
<ellipse cx="990.0" cy="789.0" rx="11.0" ry="15.0" transform="rotate(25 990.0 789.0)" fill="none" stroke="#1c1c1c" stroke-width="1.0"/>
<ellipse cx="982.0" cy="720.0" rx="3.2" ry="5.0" transform="rotate(25 982.0 720.0)" fill="#fff" stroke="#1c1c1c" stroke-width="1.6"/>
<ellipse cx="1025.0" cy="715.0" rx="3.2" ry="5.0" transform="rotate(25 1025.0 715.0)" fill="#fff" stroke="#1c1c1c" stroke-width="1.6"/>
<ellipse cx="939.0" cy="765.0" rx="3.2" ry="5.0" transform="rotate(25 939.0 765.0)" fill="#fff" stroke="#1c1c1c" stroke-width="1.6"/>
<ellipse cx="1025.0" cy="814.0" rx="3.2" ry="5.0" transform="rotate(25 1025.0 814.0)" fill="#fff" stroke="#1c1c1c" stroke-width="1.6"/>
<ellipse cx="939.0" cy="863.0" rx="3.2" ry="5.0" transform="rotate(25 939.0 863.0)" fill="#fff" stroke="#1c1c1c" stroke-width="1.6"/>
<ellipse cx="982.0" cy="860.0" rx="3.2" ry="5.0" transform="rotate(25 982.0 860.0)" fill="#fff" stroke="#1c1c1c" stroke-width="1.6"/>
<polyline points="883.7,509.7 884.3,523.2 887.7,524.9 888.8,512.5 914.2,526.6 915.3,533.4 920.9,544.1 927.7,549.2 927.7,557.1 934.5,561.0 962.1,545.8 962.1,536.7 954.8,528.8 948.0,526.0 943.5,523.2 903.5,499.5 889.9,506.3 883.7,509.7" fill="#fff" stroke="#1c1c1c" stroke-width="1.1" stroke-linejoin="round"/>
<polyline points="889.9,506.3 939.0,532.2 948.0,526.6" fill="none" stroke="#1c1c1c" stroke-width="1.0" stroke-linejoin="round"/>
<polyline points="888.2,510.8 937.9,539.0" fill="none" stroke="#1c1c1c" stroke-width="1.0" stroke-linejoin="round"/>
<polyline points="920.9,544.1 954.8,528.8" fill="none" stroke="#1c1c1c" stroke-width="1.0" stroke-linejoin="round"/>
<polyline points="927.7,549.2 962.1,537.9" fill="none" stroke="#1c1c1c" stroke-width="1.0" stroke-linejoin="round"/>
<polyline points="939.0,532.2 942.4,539.0" fill="none" stroke="#1c1c1c" stroke-width="1.0" stroke-linejoin="round"/>
<polyline points="888.8,512.5 887.7,524.9" fill="none" stroke="#1c1c1c" stroke-width="1.0" stroke-linejoin="round"/>
<polyline points="891.6,514.2 891.6,523.2" fill="none" stroke="#1c1c1c" stroke-width="1.0" stroke-linejoin="round"/>
<polyline points="895.0,515.3 895.0,523.2" fill="none" stroke="#1c1c1c" stroke-width="1.0" stroke-linejoin="round"/>
<path d="M948.0,565.0 L923.2,576.3" fill="none" stroke="#1c1c1c" stroke-width="1.0" stroke-linejoin="round"/>
<path d="M948.0361173814898,564.9661399548532 L923.2054176072235,576.252821670429 Q916.4334085778781,581.8961625282167 920.9480812641084,589.7968397291197 Q927.7200902934537,594.3115124153499 937.8781038374718,589.7968397291197 L955.9367945823927,580.7674943566592 L953.6794582392777,566.0948081264108 Z" fill="#fff" stroke="#1c1c1c" stroke-width="1.1" stroke-linejoin="round"/>
<line x1="937.9" y1="589.8" x2="935.6" y2="579.6" stroke="#1c1c1c" stroke-width="1.1"/>
<line x1="950.3" y1="568.4" x2="953.7" y2="576.3" stroke="#1c1c1c" stroke-width="1.1"/>
<path d="M949.1647855530474,564.9661399548532 L955.9367945823927,561.5801354401806 L963.8374717832958,564.9661399548532 L966.6591422121896,570.6094808126411 L967.2234762979684,584.1534988713319 L957.0654627539503,587.5395033860045 L954.8081264108353,579.6388261851016" fill="#fff" stroke="#1c1c1c" stroke-width="1.1" stroke-linejoin="round"/>
<path d="M955.9367945823927,584.1534988713319 L957.0654627539503,605.5981941309255 L972.8668171557562,640.0225733634311 L978.510158013544,649.6162528216704" fill="none" stroke="#1c1c1c" stroke-width="1.0" stroke-linejoin="round"/>
<path d="M964.9661399548532,584.1534988713319 L967.2234762979684,606.7268623024831 L981.8961625282167,640.0225733634311" fill="none" stroke="#1c1c1c" stroke-width="1.0" stroke-linejoin="round"/>
<line x1="961.0" y1="585.3" x2="962.1" y2="605.6" stroke="#1c1c1c" stroke-width="1.1"/>
<line x1="955.9" y1="587.5" x2="966.1" y2="586.4" stroke="#1c1c1c" stroke-width="1.1"/>
<line x1="958.2" y1="606.7" x2="967.2" y2="606.7" stroke="#1c1c1c" stroke-width="1.1"/>
<path d="M979,640 L1000,690" fill="none" stroke="#1c1c1c" stroke-width="1.0" stroke-linejoin="round"/>
<path d="M985,637 L1008,688" fill="none" stroke="#1c1c1c" stroke-width="1.0" stroke-linejoin="round"/>
<path d="M1071,1119 L1071,722 Q1071,712 1080,708 L1285,595 Q1295,590 1303,600 L1340,636 L1352,644 L1413,795 L1408,812 L1388,888 L1300,880 L1230,930 L1196,1010 L1205,1060 L1240,1092 L1230,1135 L1200,1148 L1165,1158 Q1150,1160 1140,1154 L1089,1130 Q1071,1125 1071,1119 Z" fill="#fff" stroke="none" stroke-width="0" stroke-linejoin="round"/>
<path d="M1071,1119 L1071,722 Q1071,712 1080,708 L1285,595 Q1295,590 1303,600 L1340,636 L1352,644 L1413,795 L1408,812 L1390,882" fill="none" stroke="#1c1c1c" stroke-width="1.2" stroke-linejoin="round"/>
<polyline points="1356.3,882.8 1354.5,880.6 1352.5,878.5 1350.4,876.6 1348.1,874.9 1345.8,873.3 1343.4,871.9 1340.8,870.7 1338.2,869.7 1335.4,868.9 1332.6,868.3 1329.6,867.8 1326.6,867.6 1323.5,867.5 1320.4,867.6 1317.1,868.0 1313.9,868.5 1310.5,869.2 1307.1,870.0 1303.7,871.1 1300.2,872.4 1296.7,873.8 1293.2,875.4 1289.7,877.2 1286.1,879.1 1282.5,881.3 1279.0,883.6 1275.4,886.0 1271.8,888.7 1268.3,891.4 1264.8,894.4 1261.3,897.4 1257.9,900.6 1254.5,904.0 1251.1,907.4 1247.8,911.0 1244.6,914.7 1241.4,918.5 1238.3,922.5 1235.2,926.5 1232.3,930.6 1229.4,934.7 1226.6,939.0 1224.0,943.3 1221.4,947.7 1218.9,952.1 1216.5,956.6 1214.3,961.1 1212.1,965.7 1210.1,970.2 1208.2,974.8 1206.5,979.4 1204.8,984.0 1203.3,988.6 1201.9,993.1 1200.7,997.6 1199.6,1002.1 1198.7,1006.6 1197.9,1011.0 1197.2,1015.3 1196.7,1019.6 1196.3,1023.8 1196.1,1028.0 1196.0,1032.0 1196.1,1036.0 1196.3,1039.8 1196.7,1043.6 1197.2,1047.2 1197.9,1050.7 1198.7,1054.1 1199.6,1057.4 1200.7,1060.5 1201.9,1063.5 1203.3,1066.3 1204.8,1069.0 1206.5,1071.5 1208.2,1073.9 1210.1,1076.1 1212.1,1078.1 1214.3,1079.9 1216.5,1081.6 1218.9,1083.1 1221.4,1084.4 1224.0,1085.6 1226.7,1086.5 1229.4,1087.3 1232.3,1087.9 1235.3,1088.3 1238.3,1088.5 1241.4,1088.5 1244.6,1088.3" fill="none" stroke="#1c1c1c" stroke-width="1.1" stroke-linejoin="round"/>
<line x1="1078.0" y1="732.0" x2="1078.0" y2="1120.0" stroke="#1c1c1c" stroke-width="1.0"/>
<line x1="1084.0" y1="728.0" x2="1084.0" y2="1124.0" stroke="#1c1c1c" stroke-width="1.0"/>
<path d="M1078,732 Q1078,722 1088,716 L1290,604" fill="none" stroke="#1c1c1c" stroke-width="1.0" stroke-linejoin="round"/>
<path d="M1084,728 Q1086,720 1094,716 L1293,609" fill="none" stroke="#1c1c1c" stroke-width="1.0" stroke-linejoin="round"/>
<path d="M1302,605 L1290,610 L1095,716 Q1090,720 1088,728" fill="none" stroke="#1c1c1c" stroke-width="1.0" stroke-linejoin="round"/>
<line x1="1303.0" y1="600.0" x2="1296.0" y2="610.0" stroke="#1c1c1c" stroke-width="1.0"/>
<line x1="1296.0" y1="610.0" x2="1339.0" y2="640.0" stroke="#1c1c1c" stroke-width="1.0"/>
<line x1="1339.0" y1="640.0" x2="1407.0" y2="790.0" stroke="#1c1c1c" stroke-width="1.0"/>
<path d="M1143,752 Q1137,756 1140,762 L1211,888" fill="none" stroke="#1c1c1c" stroke-width="1.0" stroke-linejoin="round"/>
<path d="M1147,750 L1340,641" fill="none" stroke="#1c1c1c" stroke-width="1.0" stroke-linejoin="round"/>
<path d="M1149,756 L1337,648 L1400,790 L1215,885 L1149,756" fill="none" stroke="#1c1c1c" stroke-width="1.0" stroke-linejoin="round"/>
<line x1="1215.0" y1="885.0" x2="1218.0" y2="900.0" stroke="#1c1c1c" stroke-width="1.0"/>
<line x1="1218.0" y1="900.0" x2="1403.0" y2="806.0" stroke="#1c1c1c" stroke-width="1.0"/>
<line x1="1220.0" y1="893.0" x2="1401.0" y2="800.0" stroke="#1c1c1c" stroke-width="1.0"/>
<polygon points="1197.6,726.0 1289.0,675.0 1316.0,728.0 1226.0,785.0" fill="none" stroke="#1c1c1c" stroke-width="1.2" stroke-linejoin="round"/>
<polygon points="1205.0,730.0 1285.0,685.0 1306.0,726.0 1228.0,776.0" fill="none" stroke="#1c1c1c" stroke-width="1.0" stroke-linejoin="round"/>
<polygon points="1222.0,736.0 1278.0,704.0 1296.0,732.0 1240.0,764.0" fill="none" stroke="#1c1c1c" stroke-width="1.0" stroke-linejoin="round"/>
<line x1="1281.0" y1="711.0" x2="1282.0" y2="738.0" stroke="#1c1c1c" stroke-width="1.0"/>
<polygon points="1289.0,674.0 1328.0,652.0 1358.0,709.0 1320.0,730.0" fill="none" stroke="#1c1c1c" stroke-width="1.2" stroke-linejoin="round"/>
<polygon points="1293.0,678.0 1326.0,660.0 1352.0,708.0 1320.0,724.0" fill="none" stroke="#1c1c1c" stroke-width="1.0" stroke-linejoin="round"/>
<line x1="1289.0" y1="680.0" x2="1312.0" y2="728.0" stroke="#1c1c1c" stroke-width="0.8"/>
<line x1="1290.2" y1="680.3" x2="1313.2" y2="728.3" stroke="#1c1c1c" stroke-width="0.8"/>
<line x1="1291.4" y1="680.6" x2="1314.4" y2="728.6" stroke="#1c1c1c" stroke-width="0.8"/>
<line x1="1292.6" y1="680.9" x2="1315.6" y2="728.9" stroke="#1c1c1c" stroke-width="0.8"/>
<line x1="1293.8" y1="681.2" x2="1316.8" y2="729.2" stroke="#1c1c1c" stroke-width="0.8"/>
<line x1="1295.0" y1="681.5" x2="1318.0" y2="729.5" stroke="#1c1c1c" stroke-width="0.8"/>
<ellipse cx="1335.0" cy="714.0" rx="9.0" ry="11.0" transform="rotate(0 1335.0 714.0)" fill="#fff" stroke="#1c1c1c" stroke-width="1.1"/>
<ellipse cx="1282.7" cy="775.3" rx="10.5" ry="12.5" transform="rotate(-10 1282.7 775.3)" fill="#fff" stroke="#1c1c1c" stroke-width="1.6"/>
<ellipse cx="1313.2" cy="778.5" rx="10.5" ry="12.5" transform="rotate(-10 1313.2 778.5)" fill="#fff" stroke="#1c1c1c" stroke-width="1.6"/>
<line x1="1306.2" y1="775.5" x2="1318.2" y2="784.5" stroke="#1c1c1c" stroke-width="1.0"/>
<line x1="1307.2" y1="779.5" x2="1318.2" y2="787.5" stroke="#1c1c1c" stroke-width="1.0"/>
<ellipse cx="1268.0" cy="803.7" rx="10.5" ry="12.5" transform="rotate(-10 1268.0 803.7)" fill="#fff" stroke="#1c1c1c" stroke-width="1.6"/>
<ellipse cx="1298.4" cy="806.8" rx="10.5" ry="12.5" transform="rotate(-10 1298.4 806.8)" fill="#fff" stroke="#1c1c1c" stroke-width="1.6"/>
<line x1="1291.4" y1="803.8" x2="1303.4" y2="812.8" stroke="#1c1c1c" stroke-width="1.0"/>
<line x1="1292.4" y1="807.8" x2="1303.4" y2="815.8" stroke="#1c1c1c" stroke-width="1.0"/>
<ellipse cx="1364.6" cy="769.0" rx="10.5" ry="12.5" transform="rotate(-10 1364.6 769.0)" fill="#fff" stroke="#1c1c1c" stroke-width="1.6"/>
<line x1="1357.6" y1="766.0" x2="1369.6" y2="775.0" stroke="#1c1c1c" stroke-width="1.0"/>
<line x1="1358.6" y1="770.0" x2="1369.6" y2="778.0" stroke="#1c1c1c" stroke-width="1.0"/>
<ellipse cx="1176.6" cy="746.0" rx="3.8" ry="4.3" transform="rotate(0 1176.6 746.0)" fill="#fff" stroke="#1c1c1c" stroke-width="1.6"/>
<ellipse cx="1186.0" cy="764.8" rx="3.8" ry="4.3" transform="rotate(0 1186.0 764.8)" fill="#fff" stroke="#1c1c1c" stroke-width="1.6"/>
<ellipse cx="1195.5" cy="784.8" rx="3.8" ry="4.3" transform="rotate(0 1195.5 784.8)" fill="#fff" stroke="#1c1c1c" stroke-width="1.6"/>
<ellipse cx="1205.0" cy="803.7" rx="3.8" ry="4.3" transform="rotate(0 1205.0 803.7)" fill="#fff" stroke="#1c1c1c" stroke-width="1.6"/>
<ellipse cx="1215.5" cy="822.6" rx="3.8" ry="4.3" transform="rotate(0 1215.5 822.6)" fill="#fff" stroke="#1c1c1c" stroke-width="1.6"/>
<ellipse cx="1160.8" cy="772.2" rx="3.8" ry="4.3" transform="rotate(0 1160.8 772.2)" fill="#fff" stroke="#1c1c1c" stroke-width="1.6"/>
<ellipse cx="1254.3" cy="778.5" rx="3.8" ry="4.3" transform="rotate(0 1254.3 778.5)" fill="#fff" stroke="#1c1c1c" stroke-width="1.6"/>
<ellipse cx="1299.5" cy="751.2" rx="3.8" ry="4.3" transform="rotate(0 1299.5 751.2)" fill="#fff" stroke="#1c1c1c" stroke-width="1.6"/>
<ellipse cx="1324.7" cy="754.3" rx="3.8" ry="4.3" transform="rotate(0 1324.7 754.3)" fill="#fff" stroke="#1c1c1c" stroke-width="1.6"/>
<ellipse cx="1338.4" cy="780.6" rx="3.8" ry="4.3" transform="rotate(0 1338.4 780.6)" fill="#fff" stroke="#1c1c1c" stroke-width="1.6"/>
<ellipse cx="1326.8" cy="804.7" rx="3.8" ry="4.3" transform="rotate(0 1326.8 804.7)" fill="#fff" stroke="#1c1c1c" stroke-width="1.6"/>
<ellipse cx="1281.6" cy="831.0" rx="3.8" ry="4.3" transform="rotate(0 1281.6 831.0)" fill="#fff" stroke="#1c1c1c" stroke-width="1.6"/>
<ellipse cx="1203.9" cy="855.2" rx="3.8" ry="4.3" transform="rotate(0 1203.9 855.2)" fill="#fff" stroke="#1c1c1c" stroke-width="1.6"/>
<ellipse cx="1346.8" cy="665.0" rx="3.8" ry="4.3" transform="rotate(0 1346.8 665.0)" fill="#fff" stroke="#1c1c1c" stroke-width="1.6"/>
<polygon points="1163.0,778.5 1169.0,777.0 1174.5,793.0 1168.5,795.3" fill="none" stroke="#1c1c1c" stroke-width="1.0" stroke-linejoin="round"/>
<polygon points="1205.0,860.4 1211.0,858.5 1217.6,876.0 1211.6,878.3" fill="none" stroke="#1c1c1c" stroke-width="1.0" stroke-linejoin="round"/>
<path d="M1078,864 L1094,876 Q1101,881 1099,886 L1092,888 L1078,880" fill="none" stroke="#1c1c1c" stroke-width="1.0" stroke-linejoin="round"/>
<path d="M1125.8,898.7 L1202.8,941.8 A3.4,3.4 0 0 0 1206.2,935.9 L1129.2,892.7 A3.4,3.4 0 0 0 1125.8,898.7 Z" fill="#8f8f8f" stroke="#222" stroke-width="1.2" stroke-linejoin="round"/>
<line x1="1129.5" y1="894.5" x2="1203.5" y2="937.6" stroke="#333" stroke-width="0.8"/>
<line x1="1129.5" y1="896.9" x2="1203.5" y2="940.0" stroke="#444" stroke-width="0.8"/>
<path d="M1122.1,909.0 L1199.1,952.1 A3.4,3.4 0 0 0 1202.5,946.2 L1125.5,903.0 A3.4,3.4 0 0 0 1122.1,909.0 Z" fill="#8f8f8f" stroke="#222" stroke-width="1.2" stroke-linejoin="round"/>
<line x1="1125.8" y1="904.8" x2="1199.8" y2="947.9" stroke="#333" stroke-width="0.8"/>
<line x1="1125.8" y1="907.2" x2="1199.8" y2="950.3" stroke="#444" stroke-width="0.8"/>
<path d="M1119.1,919.3 L1196.1,962.4 A3.4,3.4 0 0 0 1199.5,956.5 L1122.5,913.3 A3.4,3.4 0 0 0 1119.1,919.3 Z" fill="#8f8f8f" stroke="#222" stroke-width="1.2" stroke-linejoin="round"/>
<line x1="1122.8" y1="915.1" x2="1196.8" y2="958.2" stroke="#333" stroke-width="0.8"/>
<line x1="1122.8" y1="917.5" x2="1196.8" y2="960.6" stroke="#444" stroke-width="0.8"/>
<path d="M1116.1,930.1 L1191.1,972.1 A3.4,3.4 0 0 0 1194.5,966.1 L1119.5,924.1 A3.4,3.4 0 0 0 1116.1,930.1 Z" fill="#8f8f8f" stroke="#222" stroke-width="1.2" stroke-linejoin="round"/>
<line x1="1119.8" y1="925.9" x2="1191.8" y2="967.9" stroke="#333" stroke-width="0.8"/>
<line x1="1119.8" y1="928.3" x2="1191.8" y2="970.3" stroke="#444" stroke-width="0.8"/>
<path d="M1113.1,941.0 L1188.1,983.0 A3.4,3.4 0 0 0 1191.5,977.0 L1116.5,935.0 A3.4,3.4 0 0 0 1113.1,941.0 Z" fill="#8f8f8f" stroke="#222" stroke-width="1.2" stroke-linejoin="round"/>
<line x1="1116.8" y1="936.8" x2="1188.8" y2="978.8" stroke="#333" stroke-width="0.8"/>
<line x1="1116.8" y1="939.2" x2="1188.8" y2="981.2" stroke="#444" stroke-width="0.8"/>
<path d="M1110.0,951.3 L1185.0,993.3 A3.4,3.4 0 0 0 1188.4,987.3 L1113.4,945.3 A3.4,3.4 0 0 0 1110.0,951.3 Z" fill="#8f8f8f" stroke="#222" stroke-width="1.2" stroke-linejoin="round"/>
<line x1="1113.7" y1="947.1" x2="1185.7" y2="989.1" stroke="#333" stroke-width="0.8"/>
<line x1="1113.7" y1="949.5" x2="1185.7" y2="991.5" stroke="#444" stroke-width="0.8"/>
<path d="M1106.4,961.5 L1181.4,1003.5 A3.4,3.4 0 0 0 1184.8,997.5 L1109.8,955.5 A3.4,3.4 0 0 0 1106.4,961.5 Z" fill="#8f8f8f" stroke="#222" stroke-width="1.2" stroke-linejoin="round"/>
<line x1="1110.1" y1="957.3" x2="1182.1" y2="999.3" stroke="#333" stroke-width="0.8"/>
<line x1="1110.1" y1="959.7" x2="1182.1" y2="1001.7" stroke="#444" stroke-width="0.8"/>
<path d="M1104.0,973.0 L1179.0,1015.0 A3.4,3.4 0 0 0 1182.4,1009.0 L1107.4,967.0 A3.4,3.4 0 0 0 1104.0,973.0 Z" fill="#8f8f8f" stroke="#222" stroke-width="1.2" stroke-linejoin="round"/>
<line x1="1107.7" y1="968.8" x2="1179.7" y2="1010.8" stroke="#333" stroke-width="0.8"/>
<line x1="1107.7" y1="971.2" x2="1179.7" y2="1013.2" stroke="#444" stroke-width="0.8"/>
<path d="M1102.8,984.5 L1177.8,1026.5 A3.4,3.4 0 0 0 1181.2,1020.5 L1106.2,978.5 A3.4,3.4 0 0 0 1102.8,984.5 Z" fill="#8f8f8f" stroke="#222" stroke-width="1.2" stroke-linejoin="round"/>
<line x1="1106.5" y1="980.3" x2="1178.5" y2="1022.3" stroke="#333" stroke-width="0.8"/>
<line x1="1106.5" y1="982.7" x2="1178.5" y2="1024.7" stroke="#444" stroke-width="0.8"/>
<path d="M1102.2,996.6 L1177.2,1038.6 A3.4,3.4 0 0 0 1180.6,1032.6 L1105.6,990.6 A3.4,3.4 0 0 0 1102.2,996.6 Z" fill="#8f8f8f" stroke="#222" stroke-width="1.2" stroke-linejoin="round"/>
<line x1="1105.9" y1="992.4" x2="1177.9" y2="1034.4" stroke="#333" stroke-width="0.8"/>
<line x1="1105.9" y1="994.8" x2="1177.9" y2="1036.8" stroke="#444" stroke-width="0.8"/>
<path d="M1102.2,1008.7 L1177.2,1050.7 A3.4,3.4 0 0 0 1180.6,1044.7 L1105.6,1002.7 A3.4,3.4 0 0 0 1102.2,1008.7 Z" fill="#8f8f8f" stroke="#222" stroke-width="1.2" stroke-linejoin="round"/>
<line x1="1105.9" y1="1004.5" x2="1177.9" y2="1046.5" stroke="#333" stroke-width="0.8"/>
<line x1="1105.9" y1="1006.9" x2="1177.9" y2="1048.9" stroke="#444" stroke-width="0.8"/>
<path d="M1102.2,1021.3 L1177.2,1063.3 A3.4,3.4 0 0 0 1180.6,1057.3 L1105.6,1015.3 A3.4,3.4 0 0 0 1102.2,1021.3 Z" fill="#8f8f8f" stroke="#222" stroke-width="1.2" stroke-linejoin="round"/>
<line x1="1105.9" y1="1017.1" x2="1177.9" y2="1059.1" stroke="#333" stroke-width="0.8"/>
<line x1="1105.9" y1="1019.5" x2="1177.9" y2="1061.5" stroke="#444" stroke-width="0.8"/>
<path d="M1102.2,1033.4 L1177.2,1075.4 A3.4,3.4 0 0 0 1180.6,1069.4 L1105.6,1027.4 A3.4,3.4 0 0 0 1102.2,1033.4 Z" fill="#8f8f8f" stroke="#222" stroke-width="1.2" stroke-linejoin="round"/>
<line x1="1105.9" y1="1029.2" x2="1177.9" y2="1071.2" stroke="#333" stroke-width="0.8"/>
<line x1="1105.9" y1="1031.6" x2="1177.9" y2="1073.6" stroke="#444" stroke-width="0.8"/>
<path d="M1102.2,1045.5 L1177.2,1087.5 A3.4,3.4 0 0 0 1180.6,1081.5 L1105.6,1039.5 A3.4,3.4 0 0 0 1102.2,1045.5 Z" fill="#8f8f8f" stroke="#222" stroke-width="1.2" stroke-linejoin="round"/>
<line x1="1105.9" y1="1041.3" x2="1177.9" y2="1083.3" stroke="#333" stroke-width="0.8"/>
<line x1="1105.9" y1="1043.7" x2="1177.9" y2="1085.7" stroke="#444" stroke-width="0.8"/>
<path d="M1102.2,1058.2 L1177.2,1100.2 A3.4,3.4 0 0 0 1180.6,1094.2 L1105.6,1052.2 A3.4,3.4 0 0 0 1102.2,1058.2 Z" fill="#8f8f8f" stroke="#222" stroke-width="1.2" stroke-linejoin="round"/>
<line x1="1105.9" y1="1054.0" x2="1177.9" y2="1096.0" stroke="#333" stroke-width="0.8"/>
<line x1="1105.9" y1="1056.4" x2="1177.9" y2="1098.4" stroke="#444" stroke-width="0.8"/>
<line x1="1089.0" y1="716.0" x2="1141.0" y2="752.0" stroke="#1c1c1c" stroke-width="1.0"/>
<line x1="1081.0" y1="730.0" x2="1081.0" y2="1122.0" stroke="#1c1c1c" stroke-width="1.0"/>
<ellipse cx="1336.0" cy="998.0" rx="67.6" ry="122.6" transform="rotate(31.3 1336.0 998.0)" fill="#fff" stroke="#1c1c1c" stroke-width="1.2"/>
<ellipse cx="1340.0" cy="995.0" rx="62.0" ry="116.0" transform="rotate(31.3 1340.0 995.0)" fill="none" stroke="#1c1c1c" stroke-width="2.0"/>
<ellipse cx="1339.0" cy="1000.0" rx="34.2" ry="61.0" transform="rotate(32 1339.0 1000.0)" fill="#fff" stroke="#1c1c1c" stroke-width="1.1"/>
<ellipse cx="1344.0" cy="998.0" rx="31.0" ry="56.0" transform="rotate(32 1344.0 998.0)" fill="none" stroke="#1c1c1c" stroke-width="1.0"/>
<line x1="1298.0" y1="1040.0" x2="1345.0" y2="1000.0" stroke="#1c1c1c" stroke-width="1.0"/>
<line x1="1310.0" y1="985.0" x2="1340.0" y2="1000.0" stroke="#1c1c1c" stroke-width="1.0"/>
<path d="M1300,1045 Q1305,1025 1330,1015" fill="none" stroke="#1c1c1c" stroke-width="1.0" stroke-linejoin="round"/>
<ellipse cx="1339.8" cy="930.0" rx="6.5" ry="8.5" transform="rotate(25 1339.8 930.0)" fill="#fff" stroke="#1c1c1c" stroke-width="1.6"/>
<ellipse cx="1337.8" cy="931.0" rx="3.5" ry="5.0" transform="rotate(25 1337.8 931.0)" fill="none" stroke="#1c1c1c" stroke-width="1.0"/>
<ellipse cx="1382.9" cy="926.0" rx="3.5" ry="5.0" transform="rotate(25 1382.9 926.0)" fill="#fff" stroke="#1c1c1c" stroke-width="1.6"/>
<ellipse cx="1296.7" cy="975.2" rx="3.5" ry="5.0" transform="rotate(25 1296.7 975.2)" fill="#fff" stroke="#1c1c1c" stroke-width="1.6"/>
<ellipse cx="1382.9" cy="1024.5" rx="3.5" ry="5.0" transform="rotate(25 1382.9 1024.5)" fill="#fff" stroke="#1c1c1c" stroke-width="1.6"/>
<ellipse cx="1296.7" cy="1073.8" rx="3.5" ry="5.0" transform="rotate(25 1296.7 1073.8)" fill="#fff" stroke="#1c1c1c" stroke-width="1.6"/>
<ellipse cx="1339.8" cy="1070.7" rx="6.5" ry="8.5" transform="rotate(25 1339.8 1070.7)" fill="#fff" stroke="#1c1c1c" stroke-width="1.6"/>
<ellipse cx="1337.8" cy="1071.7" rx="3.5" ry="5.0" transform="rotate(25 1337.8 1071.7)" fill="none" stroke="#1c1c1c" stroke-width="1.0"/>
<path d="M1071,1119 Q1071,1128 1089,1130 L1140,1153 Q1150,1159 1161,1159 Q1178,1156 1183,1135 L1183,1100 Q1190,1020 1207,940" fill="none" stroke="#1c1c1c" stroke-width="1.2" stroke-linejoin="round"/>
<path d="M1085,1124 Q1088,1127 1095,1128 L1141,1148 Q1150,1152 1157,1150 Q1166,1145 1166,1135 L1166,1099" fill="none" stroke="#1c1c1c" stroke-width="1.0" stroke-linejoin="round"/>
<path d="M1090,1121 L1140,1144" fill="none" stroke="#1c1c1c" stroke-width="1.0" stroke-linejoin="round"/>
<path d="M1183,1134 L1212,1132 L1221,1137 L1236,1133 L1266,1120 L1277,1103" fill="none" stroke="#1c1c1c" stroke-width="1.1" stroke-linejoin="round"/>
<path d="M1166,1101 Q1175,1040 1198,950" fill="none" stroke="#1c1c1c" stroke-width="1.0" stroke-linejoin="round"/>
<path d="M1190,1111 L1193,1104 L1213,1092 L1219,1092 L1220,1118 L1217,1125 L1195,1134 L1192,1134 Z" fill="#fff" stroke="#1c1c1c" stroke-width="1.0" stroke-linejoin="round"/>
<path d="M1195,1128 L1195,1108 L1213,1098 L1214,1120" fill="none" stroke="#1c1c1c" stroke-width="1.0" stroke-linejoin="round"/>
<path d="M1236,1113 L1240,1105 L1258,1095 L1264,1097 L1265,1117 L1261,1123 L1241,1131 L1237,1131 Z" fill="#fff" stroke="#1c1c1c" stroke-width="1.0" stroke-linejoin="round"/>
<path d="M1241,1126 L1241,1108 L1259,1099 L1260,1119" fill="none" stroke="#1c1c1c" stroke-width="1.0" stroke-linejoin="round"/>
<path d="M1349,671 L1540,562 Q1546,559 1550,565 L1614,690 L1412,802 Z" fill="#fff" stroke="#1c1c1c" stroke-width="1.1" stroke-linejoin="round"/>
<polygon points="1415.4,643.1 1543.2,569.2 1574.0,629.3 1445.4,702.4" fill="none" stroke="#1c1c1c" stroke-width="1.0" stroke-linejoin="round"/>
<ellipse cx="1501.6" cy="697.0" rx="10.5" ry="12.5" transform="rotate(-10 1501.6 697.0)" fill="none" stroke="#1c1c1c" stroke-width="1.5"/>
<ellipse cx="1532.4" cy="699.3" rx="10.5" ry="12.5" transform="rotate(-10 1532.4 699.3)" fill="none" stroke="#1c1c1c" stroke-width="1.5"/>
<ellipse cx="1574.7" cy="681.3" rx="10.5" ry="12.5" transform="rotate(-10 1574.7 681.3)" fill="none" stroke="#1c1c1c" stroke-width="1.5"/>
<ellipse cx="1487.0" cy="725.5" rx="10.5" ry="12.5" transform="rotate(-10 1487.0 725.5)" fill="none" stroke="#1c1c1c" stroke-width="1.5"/>
<polyline points="991.9,1377.8 991.9,1373.2 1000.0,1369.7 1255.2,1221.9 1260.9,1223.1 1376.4,1305.1 1385.6,1315.4 1390.2,1329.3 1390.2,1407.8 1385.6,1419.3 1376.4,1422.8 1316.3,1394.0" fill="none" stroke="#1c1c1c" stroke-width="1.1" stroke-linejoin="round"/>
<polyline points="991.9,1377.8 991.9,1546.3 1004.6,1552.1 1006.9,1553.3 1004.6,1518.6 1010.4,1511.7 1025.4,1510.6 1033.5,1515.2 1037.0,1518.6 1131.6,1555.6 1145.5,1559.0 1154.7,1548.6 1154.7,1472.5 1145.5,1451.7 1136.2,1444.7 991.9,1377.8" fill="none" stroke="#1c1c1c" stroke-width="1.1" stroke-linejoin="round"/>
<polyline points="997.7,1375.5 1129.3,1440.1 1138.6,1447.1 1145.5,1458.6 1147.8,1548.6" fill="none" stroke="#1c1c1c" stroke-width="1.0" stroke-linejoin="round"/>
<polyline points="1004.6,1552.1 1004.6,1520.9 1011.6,1514.0 1025.4,1512.9 1032.3,1516.3 1034.7,1548.6 1006.9,1553.3" fill="none" stroke="#1c1c1c" stroke-width="1.0" stroke-linejoin="round"/>
<polyline points="1004.6,1532.5 1032.3,1527.9" fill="none" stroke="#1c1c1c" stroke-width="1.0" stroke-linejoin="round"/>
<polyline points="1037.0,1516.3 1131.6,1553.3" fill="none" stroke="#1c1c1c" stroke-width="1.0" stroke-linejoin="round"/>
<polyline points="1058.9,1380.1 1058.9,1384.7 1062.4,1387.0 1259.8,1261.2 1274.8,1262.3 1278.2,1264.7 1279.4,1285.4 1290.9,1292.4 1292.1,1269.3 1297.9,1265.8 1316.3,1276.2 1316.3,1283.1" fill="none" stroke="#1c1c1c" stroke-width="1.0" stroke-linejoin="round"/>
<polyline points="1062.4,1387.0 1254.0,1267.0 1260.9,1285.4 1281.7,1287.7 1288.6,1292.4" fill="none" stroke="#1c1c1c" stroke-width="1.0" stroke-linejoin="round"/>
<polyline points="1067.0,1382.4 1258.6,1264.7" fill="none" stroke="#1c1c1c" stroke-width="1.0" stroke-linejoin="round"/>
<polyline points="1071.6,1394.0 1072.7,1398.6 1087.8,1407.8 1260.9,1305.1 1288.6,1308.5 1293.3,1315.4 1293.3,1389.3" fill="none" stroke="#1c1c1c" stroke-width="1.0" stroke-linejoin="round"/>
<polyline points="1075.1,1398.6 1258.6,1308.5" fill="none" stroke="#1c1c1c" stroke-width="1.0" stroke-linejoin="round"/>
<polyline points="1083.1,1403.2 1258.6,1310.8 1286.3,1313.1 1292.1,1317.8" fill="none" stroke="#1c1c1c" stroke-width="1.0" stroke-linejoin="round"/>
<polyline points="1094.7,1410.1 1147.8,1447.1 1224.0,1403.2 1230.9,1389.3 1240.1,1380.1" fill="none" stroke="#1c1c1c" stroke-width="1.0" stroke-linejoin="round"/>
<polyline points="1094.7,1409.0 1099.3,1412.4 1099.3,1417.0" fill="none" stroke="#1c1c1c" stroke-width="1.0" stroke-linejoin="round"/>
<path d="M1180,1308.4 L1260.7,1260.5 Q1269.5,1257.4 1278.4,1263 L1288.4,1268 L1289.7,1290.8 L1297.3,1292.7" fill="none" stroke="#1c1c1c" stroke-width="1.0" stroke-linejoin="round"/>
<path d="M1180,1331.1 L1256.9,1288.3 Q1269.5,1283.2 1278.4,1288.3 L1284.7,1292 L1284.7,1304.7" fill="none" stroke="#1c1c1c" stroke-width="1.0" stroke-linejoin="round"/>
<path d="M1180,1352.6 L1258.2,1307.2 Q1270.8,1303.4 1284.7,1309.7 L1293.5,1314.8 L1293.5,1387.9 L1298.5,1387.9 L1298.5,1314.8 L1295,1311" fill="none" stroke="#1c1c1c" stroke-width="1.0" stroke-linejoin="round"/>
<line x1="1278.4" y1="1311.0" x2="1278.4" y2="1381.6" stroke="#1c1c1c" stroke-width="1.0"/>
<line x1="1260.7" y1="1262.0" x2="1260.7" y2="1380.3" stroke="#1c1c1c" stroke-width="1.0"/>
<path d="M1291,1292 L1291,1269 Q1294,1265 1298.5,1267 L1298.5,1292 Z" fill="none" stroke="#1c1c1c" stroke-width="1.0" stroke-linejoin="round"/>
<line x1="1298.5" y1="1267.0" x2="1316.0" y2="1278.0" stroke="#1c1c1c" stroke-width="1.0"/>
<path d="M1312.4,1283 L1312.4,1302 L1316,1305 L1374,1340 Q1381,1338 1382,1331" fill="none" stroke="#1c1c1c" stroke-width="1.0" stroke-linejoin="round"/>
<line x1="1316.0" y1="1285.8" x2="1376.7" y2="1326.0" stroke="#1c1c1c" stroke-width="1.0"/>
<line x1="1316.0" y1="1300.9" x2="1376.7" y2="1338.7" stroke="#1c1c1c" stroke-width="1.0"/>
<path d="M1312.4,1283 Q1314,1280 1318,1282 L1318,1299" fill="none" stroke="#1c1c1c" stroke-width="1.0" stroke-linejoin="round"/>
<line x1="1312.4" y1="1326.0" x2="1381.8" y2="1369.0" stroke="#1c1c1c" stroke-width="1.0"/>
<line x1="1312.4" y1="1338.7" x2="1312.4" y2="1400.5" stroke="#1c1c1c" stroke-width="1.0"/>
<line x1="1318.7" y1="1340.0" x2="1318.7" y2="1399.0" stroke="#1c1c1c" stroke-width="1.0"/>
<line x1="1318.7" y1="1340.0" x2="1376.7" y2="1370.0" stroke="#1c1c1c" stroke-width="1.0"/>
<line x1="1312.4" y1="1326.0" x2="1312.4" y2="1338.7" stroke="#1c1c1c" stroke-width="1.0"/>
<line x1="1381.8" y1="1340.0" x2="1381.8" y2="1409.3" stroke="#1c1c1c" stroke-width="1.0"/>
<line x1="1386.0" y1="1343.0" x2="1386.0" y2="1407.0" stroke="#1c1c1c" stroke-width="1.0"/>
<line x1="1312.4" y1="1400.5" x2="1369.0" y2="1422.0" stroke="#1c1c1c" stroke-width="1.0"/>
<line x1="1256.0" y1="1225.0" x2="1372.0" y2="1308.0" stroke="#1c1c1c" stroke-width="1.0"/>
<path d="M1372,1308 Q1385,1318 1386,1335" fill="none" stroke="#1c1c1c" stroke-width="1.0" stroke-linejoin="round"/>
<path d="M1232.0641884091433,1403.1863311013622 L1233.218656199492,1384.7148464557838 Q1240.145462941584,1366.2433618102054 1253.9990764257677,1368.5522973909028 Q1265.5437543292542,1375.4791041329947 1263.2348187485568,1384.7148464557838 L1272.470561071346,1391.6416531978757 L1270.1616254906487,1407.804202262757 L1247.0722696836758,1412.4220734241514 Z" fill="#fff" stroke="#1c1c1c" stroke-width="1.0" stroke-linejoin="round"/>
<line x1="1247.1" y1="1382.4" x2="1247.1" y2="1411.3" stroke="#1c1c1c" stroke-width="1.0"/>
<line x1="1245.9" y1="1396.3" x2="1271.3" y2="1391.6" stroke="#1c1c1c" stroke-width="1.0"/>
<ellipse cx="1161.6" cy="1380.1" rx="4.0" ry="6.0" transform="rotate(20 1161.6 1380.1)" fill="none" stroke="#1c1c1c" stroke-width="1.5"/>
<ellipse cx="1224.1" cy="1366.5" rx="7.5" ry="10.0" transform="rotate(20 1224.1 1366.5)" fill="none" stroke="#1c1c1c" stroke-width="1.6"/>
<ellipse cx="1094.7" cy="1389.3" rx="6.0" ry="9.0" transform="rotate(20 1094.7 1389.3)" fill="none" stroke="#1c1c1c" stroke-width="1.0"/>
<ellipse cx="1219.0" cy="1316.0" rx="6.5" ry="8.5" transform="rotate(20 1219.0 1316.0)" fill="none" stroke="#1c1c1c" stroke-width="1.0"/>
<polyline points="1154.7,1458.6 1161.6,1463.2 1159.3,1467.8 1154.7,1465.5" fill="none" stroke="#1c1c1c" stroke-width="1.0" stroke-linejoin="round"/>
<polyline points="1154.7,1488.6 1161.6,1493.2 1159.3,1497.9 1154.7,1495.5" fill="none" stroke="#1c1c1c" stroke-width="1.0" stroke-linejoin="round"/>
<line x1="1322.0" y1="1432.0" x2="1322.0" y2="1446.0" stroke="#1c1c1c" stroke-width="1.1"/>
<line x1="1326.0" y1="1432.0" x2="1326.0" y2="1446.0" stroke="#1c1c1c" stroke-width="1.1"/>
<line x1="1322.0" y1="1432.0" x2="1326.0" y2="1432.0" stroke="#1c1c1c" stroke-width="1.1"/>
<path d="M1314,1450 Q1320,1444 1332,1446 L1334,1470 L1313,1472 Z" fill="#fff" stroke="#1c1c1c" stroke-width="1.0" stroke-linejoin="round"/>
<ellipse cx="1323.0" cy="1473.0" rx="14.0" ry="5.0" transform="rotate(0 1323.0 1473.0)" fill="#fff" stroke="#1c1c1c" stroke-width="1.0"/>
<ellipse cx="1323.0" cy="1471.0" rx="12.0" ry="4.0" transform="rotate(0 1323.0 1471.0)" fill="none" stroke="#1c1c1c" stroke-width="1.0"/>
<path d="M1313,1476 L1315,1500 Q1323,1505 1331,1500 L1334,1476" fill="#fff" stroke="#1c1c1c" stroke-width="1.0" stroke-linejoin="round"/>
<ellipse cx="1314.0" cy="1492.0" rx="2.0" ry="2.5" transform="rotate(0 1314.0 1492.0)" fill="none" stroke="#1c1c1c" stroke-width="1.2"/>
<ellipse cx="1481.0" cy="1395.0" rx="58.0" ry="197.0" transform="rotate(-5.3 1481.0 1395.0)" fill="none" stroke="#2b8fc2" stroke-width="1.8"/>
<path d="M1441.5896487985212,1228.5212569316081 L1455.452865064695,1225.0554528650646 L1480.86876155268,1231.9870609981515 L1484.3345656192237,1235.452865064695 L1482.0240295748613,1256.2476894639556 L1478.558225508318,1259.7134935304991 L1453.1423290203327,1253.9371534195934 L1440.43438077634,1250.4713493530498 Z" fill="#fff" stroke="#1c1c1c" stroke-width="1.1" stroke-linejoin="round"/>
<line x1="1455.5" y1="1225.1" x2="1453.1" y2="1253.9" stroke="#1c1c1c" stroke-width="1.1"/>
<line x1="1449.7" y1="1228.5" x2="1447.4" y2="1251.6" stroke="#1c1c1c" stroke-width="1.1"/>
<line x1="1441.6" y1="1235.5" x2="1453.1" y2="1236.6" stroke="#1c1c1c" stroke-width="1.1"/>
<line x1="1441.1" y1="1243.5" x2="1453.1" y2="1244.7" stroke="#1c1c1c" stroke-width="1.1"/>
<line x1="1457.8" y1="1227.4" x2="1483.2" y2="1234.3" stroke="#1c1c1c" stroke-width="1.1"/>
<line x1="1482.0" y1="1243.5" x2="1494.7" y2="1244.7" stroke="#1c1c1c" stroke-width="1.1"/>
<line x1="1482.0" y1="1249.3" x2="1494.7" y2="1249.3" stroke="#1c1c1c" stroke-width="1.1"/>
<ellipse cx="1497.0" cy="1247.0" rx="2.5" ry="4.5" transform="rotate(0 1497.0 1247.0)" fill="none" stroke="#1c1c1c" stroke-width="1.2"/>
<path d="M1454.2975970425139,1256.2476894639556 L1455.452865064695,1288.5951940850277 Q1467.0055452865065,1294.3715341959335 1479.7134935304991,1288.5951940850277 L1479.7134935304991,1259.7134935304991" fill="#fff" stroke="#1c1c1c" stroke-width="1.1" stroke-linejoin="round"/>
<line x1="1455.5" y1="1278.2" x2="1479.7" y2="1281.7" stroke="#1c1c1c" stroke-width="1.1"/>
<line x1="1455.5" y1="1281.7" x2="1479.7" y2="1285.1" stroke="#1c1c1c" stroke-width="1.1"/>
<path d="M1461.2292051756008,1294.3715341959335 Q1462.384473197782,1364.8428835489833 1480.86876155268,1411.0536044362293 Q1490.1109057301294,1445.7116451016636 1486.645101663586,1521.9593345656192" fill="none" stroke="#1c1c1c" stroke-width="1.0" stroke-linejoin="round"/>
<path d="M1467.0055452865065,1294.3715341959335 Q1468.1608133086877,1364.8428835489833 1486.645101663586,1411.0536044362293 Q1493.5767097966727,1445.7116451016636 1491.2661737523106,1521.9593345656192" fill="none" stroke="#1c1c1c" stroke-width="1.0" stroke-linejoin="round"/>
<ellipse cx="1489.0" cy="1524.0" rx="6.0" ry="2.5" transform="rotate(0 1489.0 1524.0)" fill="#333" stroke="#1c1c1c" stroke-width="1.5"/>
<ellipse cx="1489.0" cy="1533.0" rx="13.7" ry="9.0" transform="rotate(0 1489.0 1533.0)" fill="#1e1e1e" stroke="#1c1c1c" stroke-width="1.2"/>
<ellipse cx="1492.0" cy="1530.0" rx="8.0" ry="2.0" transform="rotate(0 1492.0 1530.0)" fill="#fff" stroke="none" stroke-width="0"/>
<ellipse cx="1480.0" cy="1534.0" rx="4.0" ry="1.6" transform="rotate(-25 1480.0 1534.0)" fill="#fff" stroke="none" stroke-width="0"/>
<ellipse cx="1490.0" cy="1550.0" rx="19.8" ry="9.0" transform="rotate(0 1490.0 1550.0)" fill="#1e1e1e" stroke="#1c1c1c" stroke-width="1.2"/>
<ellipse cx="1494.0" cy="1546.0" rx="9.0" ry="2.2" transform="rotate(0 1494.0 1546.0)" fill="#fff" stroke="none" stroke-width="0"/>
<ellipse cx="1476.0" cy="1552.0" rx="5.0" ry="1.6" transform="rotate(-30 1476.0 1552.0)" fill="#fff" stroke="none" stroke-width="0"/>
<ellipse cx="1503.0" cy="1553.0" rx="3.0" ry="1.8" transform="rotate(40 1503.0 1553.0)" fill="#fff" stroke="none" stroke-width="0"/>
<path d="M1480,1556 L1481,1574 Q1490,1580 1501,1574 L1502,1556 Z" fill="#fff" stroke="#1c1c1c" stroke-width="1.2" stroke-linejoin="round"/>
<ellipse cx="1491.0" cy="1573.0" rx="9.5" ry="3.5" transform="rotate(0 1491.0 1573.0)" fill="#fff" stroke="#1c1c1c" stroke-width="1.3"/>
<ellipse cx="1486.0" cy="1573.0" rx="2.0" ry="1.5" transform="rotate(0 1486.0 1573.0)" fill="none" stroke="#1c1c1c" stroke-width="1.0"/>
<ellipse cx="1496.0" cy="1573.0" rx="2.0" ry="1.5" transform="rotate(0 1496.0 1573.0)" fill="none" stroke="#1c1c1c" stroke-width="1.0"/>
<ellipse cx="1463.1" cy="1064.2" rx="27.0" ry="61.6" transform="rotate(34.9 1463.1 1064.2)" fill="none" stroke="#1c1c1c" stroke-width="1.1"/>
<ellipse cx="1465.5" cy="1063.0" rx="25.0" ry="58.5" transform="rotate(34.9 1465.5 1063.0)" fill="none" stroke="#1c1c1c" stroke-width="1.0"/>
<ellipse cx="1467.2" cy="1066.8" rx="14.9" ry="28.9" transform="rotate(32.5 1467.2 1066.8)" fill="none" stroke="#1c1c1c" stroke-width="2.2"/>
<ellipse cx="1467.2" cy="1066.8" rx="12.6" ry="26.4" transform="rotate(32.5 1467.2 1066.8)" fill="none" stroke="#1c1c1c" stroke-width="1.0"/>
<line x1="1445.5" y1="977.8" x2="1454.5" y2="984.8" stroke="#1c1c1c" stroke-width="1.1"/>
<line x1="1441.5" y1="983.8" x2="1452.5" y2="991.8" stroke="#1c1c1c" stroke-width="1.1"/>
<ellipse cx="1443.5" cy="980.8" rx="2.5" ry="3.5" transform="rotate(-40 1443.5 980.8)" fill="none" stroke="#1c1c1c" stroke-width="1.0"/>
<ellipse cx="1459.5" cy="990.8" rx="6.0" ry="8.0" transform="rotate(25 1459.5 990.8)" fill="#fff" stroke="#1c1c1c" stroke-width="1.6"/>
<ellipse cx="1459.5" cy="990.8" rx="2.5" ry="4.0" transform="rotate(25 1459.5 990.8)" fill="none" stroke="#1c1c1c" stroke-width="1.0"/>
<line x1="1445.5" y1="1119.4" x2="1454.5" y2="1126.4" stroke="#1c1c1c" stroke-width="1.1"/>
<line x1="1441.5" y1="1125.4" x2="1452.5" y2="1133.4" stroke="#1c1c1c" stroke-width="1.1"/>
<ellipse cx="1443.5" cy="1122.4" rx="2.5" ry="3.5" transform="rotate(-40 1443.5 1122.4)" fill="none" stroke="#1c1c1c" stroke-width="1.0"/>
<ellipse cx="1459.5" cy="1132.4" rx="6.0" ry="8.0" transform="rotate(25 1459.5 1132.4)" fill="#fff" stroke="#1c1c1c" stroke-width="1.6"/>
<ellipse cx="1459.5" cy="1132.4" rx="2.5" ry="4.0" transform="rotate(25 1459.5 1132.4)" fill="none" stroke="#1c1c1c" stroke-width="1.0"/>
<ellipse cx="1548.8" cy="1114.5" rx="49.2" ry="77.3" transform="rotate(30 1548.8 1114.5)" fill="none" stroke="#1c1c1c" stroke-width="1.0"/>
<ellipse cx="1549.8" cy="1114.0" rx="46.2" ry="72.7" transform="rotate(30 1549.8 1114.0)" fill="none" stroke="#1c1c1c" stroke-width="1.8"/>
<ellipse cx="1550.8" cy="1113.5" rx="42.8" ry="67.3" transform="rotate(30 1550.8 1113.5)" fill="none" stroke="#1c1c1c" stroke-width="1.0"/>
<ellipse cx="1551.8" cy="1113.0" rx="38.4" ry="60.3" transform="rotate(30 1551.8 1113.0)" fill="none" stroke="#1c1c1c" stroke-width="1.8"/>
<ellipse cx="1552.8" cy="1112.5" rx="32.5" ry="51.0" transform="rotate(30 1552.8 1112.5)" fill="none" stroke="#1c1c1c" stroke-width="1.0"/>
<ellipse cx="1553.8" cy="1112.0" rx="23.1" ry="36.3" transform="rotate(30 1553.8 1112.0)" fill="none" stroke="#1c1c1c" stroke-width="1.5"/>
<ellipse cx="1633.0" cy="1163.3" rx="41.6" ry="69.7" transform="rotate(30.5 1633.0 1163.3)" fill="none" stroke="#1c1c1c" stroke-width="1.1"/>
<ellipse cx="1635.0" cy="1162.0" rx="38.6" ry="66.5" transform="rotate(30.5 1635.0 1162.0)" fill="none" stroke="#1c1c1c" stroke-width="1.1"/>
<path d="M1646.2214005084354,1179.4199214236191 Q1627.7328403050612,1234.8856020337416 1639.28819043217,1281.107002542177 Q1657.7767506355442,1327.3284030506125 1715.5535012710884,1333.1060781141668 L1761.774901779524,1327.3284030506125 L1784.8856020337416,1142.4428010168708 Q1761.774901779524,1123.9542408134967 1729.4199214236191,1126.2653108389184 L1697.0649410677142,1128.57638086434 Z" fill="#fff" stroke="#1c1c1c" stroke-width="1.1" stroke-linejoin="round"/>
<path d="M1676.2653108389184,1188.6642015253062 Q1650.843540559279,1234.8856020337416 1660.087820660966,1281.107002542177 Q1671.643170788075,1315.7730529235037 1710.931361220245,1329.6394730760342" fill="none" stroke="#1c1c1c" stroke-width="1.0" stroke-linejoin="round"/>
<path d="M1707.4647561821123,1151.687081118558 L1707.4647561821123,1103.1546105847008 Q1708.6202911948233,1082.354980355905 1738.6642015253062,1077.7328403050612 Q1766.3970418303675,1080.043910330483 1771.019181881211,1096.2214005084354 L1771.019181881211,1147.0649410677142" fill="#fff" stroke="#1c1c1c" stroke-width="1.1" stroke-linejoin="round"/>
<polygon points="1719.0,1096.2 1729.4,1091.6 1759.5,1092.8 1766.4,1097.4 1765.2,1108.9 1747.9,1113.6 1721.3,1110.1" fill="none" stroke="#1c1c1c" stroke-width="1.0" stroke-linejoin="round"/>
<line x1="1729.4" y1="1091.6" x2="1730.6" y2="1106.6" stroke="#1c1c1c" stroke-width="1.1"/>
<line x1="1750.2" y1="1093.9" x2="1747.9" y2="1112.4" stroke="#1c1c1c" stroke-width="1.1"/>
<ellipse cx="1742.1" cy="1090.4" rx="22.0" ry="6.0" transform="rotate(0 1742.1 1090.4)" fill="none" stroke="#1c1c1c" stroke-width="1.2"/>
<path d="M1730.5754564363301,1086.9771204067483 L1731.7309914490409,1060.399815114398 Q1740.975271550728,1054.6221400508434 1750.219551652415,1060.399815114398 L1751.375086665126,1084.6660503813266" fill="#fff" stroke="#1c1c1c" stroke-width="1.1" stroke-linejoin="round"/>
<ellipse cx="1741.0" cy="1078.9" rx="10.0" ry="3.0" transform="rotate(0 1741.0 1078.9)" fill="none" stroke="#1c1c1c" stroke-width="1.5"/>
<ellipse cx="1741.0" cy="1061.6" rx="9.0" ry="3.0" transform="rotate(0 1741.0 1061.6)" fill="none" stroke="#1c1c1c" stroke-width="1.0"/>
<ellipse cx="1760.0" cy="1238.0" rx="62.0" ry="102.0" transform="rotate(27 1760.0 1238.0)" fill="#fff" stroke="#1c1c1c" stroke-width="1.3"/>
<ellipse cx="1762.0" cy="1236.0" rx="57.0" ry="96.0" transform="rotate(27 1762.0 1236.0)" fill="none" stroke="#1c1c1c" stroke-width="1.0"/>
<ellipse cx="1763.0" cy="1236.0" rx="50.0" ry="88.0" transform="rotate(27 1763.0 1236.0)" fill="none" stroke="#1c1c1c" stroke-width="1.0"/>
<clipPath id="gridclip"><ellipse cx="1762" cy="1236" rx="55" ry="93" transform="rotate(27 1762 1236)"/></clipPath>
<g clip-path="url(#gridclip)">
<path d="M1637.7,1118.3 L1852.3,1225.7" fill="none" stroke="#1c1c1c" stroke-width="5.1" stroke-linejoin="round" stroke-linecap="round"/>
<path d="M1637.7,1118.3 L1852.3,1225.7" fill="none" stroke="#fff" stroke-width="2.9" stroke-linejoin="round" stroke-linecap="round"/>
<path d="M1630.7,1158.3 L1845.3,1265.7" fill="none" stroke="#1c1c1c" stroke-width="5.1" stroke-linejoin="round" stroke-linecap="round"/>
<path d="M1630.7,1158.3 L1845.3,1265.7" fill="none" stroke="#fff" stroke-width="2.9" stroke-linejoin="round" stroke-linecap="round"/>
<path d="M1625.7,1198.3 L1840.3,1305.7" fill="none" stroke="#1c1c1c" stroke-width="5.1" stroke-linejoin="round" stroke-linecap="round"/>
<path d="M1625.7,1198.3 L1840.3,1305.7" fill="none" stroke="#fff" stroke-width="2.9" stroke-linejoin="round" stroke-linecap="round"/>
<path d="M1620.7,1238.3 L1835.3,1345.7" fill="none" stroke="#1c1c1c" stroke-width="5.1" stroke-linejoin="round" stroke-linecap="round"/>
<path d="M1620.7,1238.3 L1835.3,1345.7" fill="none" stroke="#fff" stroke-width="2.9" stroke-linejoin="round" stroke-linecap="round"/>
<path d="M1652.7,1086.3 L1867.3,1193.7" fill="none" stroke="#1c1c1c" stroke-width="5.1" stroke-linejoin="round" stroke-linecap="round"/>
<path d="M1652.7,1086.3 L1867.3,1193.7" fill="none" stroke="#fff" stroke-width="2.9" stroke-linejoin="round" stroke-linecap="round"/>
<path d="M1660.8,1389.1 L1769.2,1130.9" fill="none" stroke="#1c1c1c" stroke-width="5.1" stroke-linejoin="round" stroke-linecap="round"/>
<path d="M1660.8,1389.1 L1769.2,1130.9" fill="none" stroke="#fff" stroke-width="2.9" stroke-linejoin="round" stroke-linecap="round"/>
<path d="M1695.8,1389.1 L1804.2,1130.9" fill="none" stroke="#1c1c1c" stroke-width="5.1" stroke-linejoin="round" stroke-linecap="round"/>
<path d="M1695.8,1389.1 L1804.2,1130.9" fill="none" stroke="#fff" stroke-width="2.9" stroke-linejoin="round" stroke-linecap="round"/>
<path d="M1730.8,1374.1 L1839.2,1115.9" fill="none" stroke="#1c1c1c" stroke-width="5.1" stroke-linejoin="round" stroke-linecap="round"/>
<path d="M1730.8,1374.1 L1839.2,1115.9" fill="none" stroke="#fff" stroke-width="2.9" stroke-linejoin="round" stroke-linecap="round"/>
<path d="M1760.8,1354.1 L1869.2,1095.9" fill="none" stroke="#1c1c1c" stroke-width="5.1" stroke-linejoin="round" stroke-linecap="round"/>
<path d="M1760.8,1354.1 L1869.2,1095.9" fill="none" stroke="#fff" stroke-width="2.9" stroke-linejoin="round" stroke-linecap="round"/>
</g>
<ellipse cx="1720.8" cy="1212.7" rx="10.0" ry="13.0" transform="rotate(27 1720.8 1212.7)" fill="#fff" stroke="#1c1c1c" stroke-width="1.2"/>
<ellipse cx="1721.8" cy="1212.7" rx="6.0" ry="8.0" transform="rotate(27 1721.8 1212.7)" fill="none" stroke="#1c1c1c" stroke-width="1.4"/>
<ellipse cx="1721.8" cy="1212.7" rx="3.5" ry="5.0" transform="rotate(27 1721.8 1212.7)" fill="none" stroke="#1c1c1c" stroke-width="1.0"/>
<ellipse cx="1807.9" cy="1163.0" rx="10.0" ry="13.0" transform="rotate(27 1807.9 1163.0)" fill="#fff" stroke="#1c1c1c" stroke-width="1.2"/>
<ellipse cx="1808.9" cy="1163.0" rx="6.0" ry="8.0" transform="rotate(27 1808.9 1163.0)" fill="none" stroke="#1c1c1c" stroke-width="1.4"/>
<ellipse cx="1808.9" cy="1163.0" rx="3.5" ry="5.0" transform="rotate(27 1808.9 1163.0)" fill="none" stroke="#1c1c1c" stroke-width="1.0"/>
<ellipse cx="1806.8" cy="1265.6" rx="10.0" ry="13.0" transform="rotate(27 1806.8 1265.6)" fill="#fff" stroke="#1c1c1c" stroke-width="1.2"/>
<ellipse cx="1807.8" cy="1265.6" rx="6.0" ry="8.0" transform="rotate(27 1807.8 1265.6)" fill="none" stroke="#1c1c1c" stroke-width="1.4"/>
<ellipse cx="1807.8" cy="1265.6" rx="3.5" ry="5.0" transform="rotate(27 1807.8 1265.6)" fill="none" stroke="#1c1c1c" stroke-width="1.0"/>
<ellipse cx="1718.6" cy="1312.0" rx="10.0" ry="13.0" transform="rotate(27 1718.6 1312.0)" fill="#fff" stroke="#1c1c1c" stroke-width="1.2"/>
<ellipse cx="1719.6" cy="1312.0" rx="6.0" ry="8.0" transform="rotate(27 1719.6 1312.0)" fill="none" stroke="#1c1c1c" stroke-width="1.4"/>
<ellipse cx="1719.6" cy="1312.0" rx="3.5" ry="5.0" transform="rotate(27 1719.6 1312.0)" fill="none" stroke="#1c1c1c" stroke-width="1.0"/>
<path d="M1745,1230 Q1755,1215 1770,1222 L1772,1262 Q1760,1275 1748,1266 Z" fill="#fff" stroke="#1c1c1c" stroke-width="1.2" stroke-linejoin="round"/>
<polygon points="1757.2,1140.1 1761.8,1130.9 1766.4,1142.4" fill="none" stroke="#1c1c1c" stroke-width="1.0" stroke-linejoin="round"/>
<polygon points="1754.8,1329.6 1759.5,1320.4 1762.9,1327.3" fill="none" stroke="#1c1c1c" stroke-width="1.0" stroke-linejoin="round"/>
<path d="M1713.2424312456667,1333.1060781141668 L1715.5535012710884,1345.8169632539866 Q1720.175641321932,1352.750173330252 1738.6642015253062,1353.9057083429627 Q1759.463831754102,1352.750173330252 1764.0859718049458,1345.8169632539866 L1765.2415068176565,1333.1060781141668" fill="#fff" stroke="#1c1c1c" stroke-width="1.1" stroke-linejoin="round"/>
<line x1="1720.2" y1="1338.9" x2="1721.3" y2="1350.4" stroke="#1c1c1c" stroke-width="1.1"/>
<line x1="1745.6" y1="1341.2" x2="1745.6" y2="1352.8" stroke="#1c1c1c" stroke-width="1.1"/>
<line x1="1720.2" y1="1338.9" x2="1764.1" y2="1336.6" stroke="#1c1c1c" stroke-width="1.1"/>
<path d="M1729.4199214236191,1352.750173330252 L1731.7309914490409,1373.5498035590479 Q1740.975271550728,1378.1719436098915 1750.219551652415,1373.5498035590479 L1752.5306216778367,1352.750173330252" fill="#fff" stroke="#1c1c1c" stroke-width="1.1" stroke-linejoin="round"/>
<line x1="1729.4" y1="1359.7" x2="1752.5" y2="1358.5" stroke="#1c1c1c" stroke-width="1.1"/>
<ellipse cx="1741.0" cy="1374.7" rx="9.0" ry="3.0" transform="rotate(0 1741.0 1374.7)" fill="none" stroke="#1c1c1c" stroke-width="1.5"/>
<path d="M1664,1124 L1690,1127 Q1700,1130 1705,1140 Q1710,1160 1703,1175 Q1695,1184 1683,1183 L1664,1178 Z" fill="#fff" stroke="#1c1c1c" stroke-width="1.2" stroke-linejoin="round"/>
<ellipse cx="1700.0" cy="1154.0" rx="6.0" ry="25.0" transform="rotate(-5 1700.0 1154.0)" fill="none" stroke="#1c1c1c" stroke-width="1.1"/>
<line x1="1668.0" y1="1128.0" x2="1694.0" y2="1131.0" stroke="#1c1c1c" stroke-width="1.5"/>
<line x1="1668.0" y1="1129.8" x2="1694.0" y2="1132.8" stroke="#1c1c1c" stroke-width="0.8"/>
<line x1="1668.0" y1="1134.0" x2="1694.0" y2="1137.0" stroke="#1c1c1c" stroke-width="1.5"/>
<line x1="1668.0" y1="1135.8" x2="1694.0" y2="1138.8" stroke="#1c1c1c" stroke-width="0.8"/>
<line x1="1668.0" y1="1140.0" x2="1694.0" y2="1143.0" stroke="#1c1c1c" stroke-width="1.5"/>
<line x1="1668.0" y1="1141.8" x2="1694.0" y2="1144.8" stroke="#1c1c1c" stroke-width="0.8"/>
<line x1="1668.0" y1="1146.0" x2="1694.0" y2="1149.0" stroke="#1c1c1c" stroke-width="1.5"/>
<line x1="1668.0" y1="1147.8" x2="1694.0" y2="1150.8" stroke="#1c1c1c" stroke-width="0.8"/>
<line x1="1668.0" y1="1152.0" x2="1694.0" y2="1155.0" stroke="#1c1c1c" stroke-width="1.5"/>
<line x1="1668.0" y1="1153.8" x2="1694.0" y2="1156.8" stroke="#1c1c1c" stroke-width="0.8"/>
<line x1="1668.0" y1="1158.0" x2="1694.0" y2="1161.0" stroke="#1c1c1c" stroke-width="1.5"/>
<line x1="1668.0" y1="1159.8" x2="1694.0" y2="1162.8" stroke="#1c1c1c" stroke-width="0.8"/>
<line x1="1668.0" y1="1164.0" x2="1694.0" y2="1167.0" stroke="#1c1c1c" stroke-width="1.5"/>
<line x1="1668.0" y1="1165.8" x2="1694.0" y2="1168.8" stroke="#1c1c1c" stroke-width="0.8"/>
<line x1="1668.0" y1="1170.0" x2="1694.0" y2="1173.0" stroke="#1c1c1c" stroke-width="1.5"/>
<line x1="1668.0" y1="1171.8" x2="1694.0" y2="1174.8" stroke="#1c1c1c" stroke-width="0.8"/>
<line x1="1668.0" y1="1176.0" x2="1694.0" y2="1179.0" stroke="#1c1c1c" stroke-width="1.5"/>
<line x1="1668.0" y1="1177.8" x2="1694.0" y2="1180.8" stroke="#1c1c1c" stroke-width="0.8"/>
<path d="M1672.7,1150.0 Q1674.6,1154.4 1671.7,1157.9 Q1672.3,1162.6 1668.7,1164.8 Q1667.9,1169.3 1664.1,1169.9 Q1662.1,1173.7 1658.4,1172.7 Q1655.4,1175.2 1652.4,1172.7 Q1648.7,1173.7 1646.8,1169.9 Q1642.9,1169.3 1642.1,1164.8 Q1638.5,1162.6 1639.1,1157.9 Q1636.2,1154.4 1638.1,1150.0 Q1636.2,1145.6 1639.1,1142.1 Q1638.5,1137.4 1642.1,1135.2 Q1642.9,1130.7 1646.8,1130.1 Q1648.7,1126.3 1652.4,1127.3 Q1655.4,1124.8 1658.4,1127.3 Q1662.1,1126.3 1664.1,1130.1 Q1667.9,1130.7 1668.7,1135.2 Q1672.3,1137.4 1671.7,1142.1 Q1674.6,1145.6 1672.7,1150.0 Z" fill="#fff" stroke="#1c1c1c" stroke-width="1.4" stroke-linejoin="round"/>
<ellipse cx="1655.4" cy="1150.0" rx="15.8" ry="21.5" transform="rotate(0 1655.4 1150.0)" fill="none" stroke="#1c1c1c" stroke-width="0.8"/>
<path d="M1667.0210307372313,1193.2863415761499 L1685.5095909406054,1197.9084816269933 L1680.887450889762,1216.3970418303675 L1662.3988906863879,1232.57453200832 L1653.1546105847008,1253.3741622371158 L1648.5324705338571,1269.5516524150682 L1636.9771204067483,1266.0850473769356 L1639.28819043217,1246.4409521608504 L1648.5324705338571,1221.019181881211 L1662.3988906863879,1207.1527617286804 Z" fill="#fff" stroke="#1c1c1c" stroke-width="1.1" stroke-linejoin="round"/>
<line x1="1640.4" y1="1248.8" x2="1652.0" y2="1252.2" stroke="#1c1c1c" stroke-width="1.1"/>
<line x1="1643.9" y1="1234.9" x2="1656.6" y2="1238.4" stroke="#1c1c1c" stroke-width="1.1"/>
<line x1="1654.3" y1="1216.4" x2="1669.3" y2="1222.2" stroke="#1c1c1c" stroke-width="1.1"/>
<path d="M1713,1008 L1722,996 L1756,995 L1764,1010 L1763,1030 L1747,1040 L1718,1036 Z" fill="#fff" stroke="#1c1c1c" stroke-width="1.1" stroke-linejoin="round"/>
<line x1="1724.0" y1="1012.0" x2="1746.0" y2="1016.0" stroke="#1c1c1c" stroke-width="1.1"/>
<line x1="1746.0" y1="1016.0" x2="1747.0" y2="1040.0" stroke="#1c1c1c" stroke-width="1.1"/>
<line x1="1724.0" y1="1012.0" x2="1713.0" y2="1008.0" stroke="#1c1c1c" stroke-width="1.1"/>
<line x1="1746.0" y1="1016.0" x2="1764.0" y2="1010.0" stroke="#1c1c1c" stroke-width="1.1"/>
<line x1="1724.0" y1="1012.0" x2="1723.0" y2="1036.0" stroke="#1c1c1c" stroke-width="1.1"/>
<path d="M1723,1010 L1726,988 Q1738,978 1752,985 L1756,1008 Q1740,1018 1723,1010 Z" fill="#fff" stroke="#1c1c1c" stroke-width="1.8" stroke-linejoin="round"/>
<ellipse cx="1738.5" cy="988.0" rx="8.4" ry="4.6" transform="rotate(0 1738.5 988.0)" fill="#fff" stroke="#1c1c1c" stroke-width="1.4"/>
<ellipse cx="1738.5" cy="988.5" rx="5.5" ry="2.8" transform="rotate(0 1738.5 988.5)" fill="none" stroke="#1c1c1c" stroke-width="1.0"/>
<line x1="1727.0" y1="992.0" x2="1726.5" y2="1010.0" stroke="#1c1c1c" stroke-width="1.3"/>
<line x1="1731.2" y1="992.0" x2="1730.7" y2="1010.0" stroke="#1c1c1c" stroke-width="1.3"/>
<line x1="1735.4" y1="992.0" x2="1734.9" y2="1010.0" stroke="#1c1c1c" stroke-width="1.3"/>
<line x1="1739.6" y1="992.0" x2="1739.1" y2="1010.0" stroke="#1c1c1c" stroke-width="1.3"/>
<line x1="1743.8" y1="992.0" x2="1743.3" y2="1010.0" stroke="#1c1c1c" stroke-width="1.3"/>
<line x1="1748.0" y1="992.0" x2="1747.5" y2="1010.0" stroke="#1c1c1c" stroke-width="1.3"/>
<line x1="1752.2" y1="992.0" x2="1751.7" y2="1010.0" stroke="#1c1c1c" stroke-width="1.3"/>
<path d="M1717,1400 L1733,1392 L1760,1394 L1767,1405 L1765,1425 L1748,1432 L1720,1428 Z" fill="#fff" stroke="#1c1c1c" stroke-width="1.1" stroke-linejoin="round"/>
<line x1="1717.0" y1="1400.0" x2="1730.0" y2="1410.0" stroke="#1c1c1c" stroke-width="1.1"/>
<line x1="1730.0" y1="1410.0" x2="1750.0" y2="1412.0" stroke="#1c1c1c" stroke-width="1.1"/>
<line x1="1750.0" y1="1412.0" x2="1767.0" y2="1405.0" stroke="#1c1c1c" stroke-width="1.1"/>
<line x1="1730.0" y1="1410.0" x2="1729.0" y2="1430.0" stroke="#1c1c1c" stroke-width="1.1"/>
<line x1="1750.0" y1="1412.0" x2="1748.0" y2="1432.0" stroke="#1c1c1c" stroke-width="1.1"/>
<ellipse cx="1742.0" cy="1402.0" rx="10.0" ry="4.5" transform="rotate(0 1742.0 1402.0)" fill="none" stroke="#1c1c1c" stroke-width="1.2"/>
<ellipse cx="1728.0" cy="1401.0" rx="1.6" ry="1.6" transform="rotate(0 1728.0 1401.0)" fill="none" stroke="#1c1c1c" stroke-width="1.0"/>
<ellipse cx="1737.0" cy="1395.0" rx="1.6" ry="1.6" transform="rotate(0 1737.0 1395.0)" fill="none" stroke="#1c1c1c" stroke-width="1.0"/>
<ellipse cx="1752.0" cy="1396.0" rx="1.6" ry="1.6" transform="rotate(0 1752.0 1396.0)" fill="none" stroke="#1c1c1c" stroke-width="1.0"/>
<ellipse cx="1759.0" cy="1402.0" rx="1.6" ry="1.6" transform="rotate(0 1759.0 1402.0)" fill="none" stroke="#1c1c1c" stroke-width="1.0"/>
<ellipse cx="1752.0" cy="1407.0" rx="1.6" ry="1.6" transform="rotate(0 1752.0 1407.0)" fill="none" stroke="#1c1c1c" stroke-width="1.0"/>
<ellipse cx="1737.0" cy="1408.0" rx="1.6" ry="1.6" transform="rotate(0 1737.0 1408.0)" fill="none" stroke="#1c1c1c" stroke-width="1.0"/>
<path d="M1728,1431 L1733,1450 Q1745,1456 1757,1450 L1760,1431" fill="#fff" stroke="#1c1c1c" stroke-width="1.1" stroke-linejoin="round"/>
<line x1="1733.0" y1="1432.0" x2="1736.0" y2="1451.0" stroke="#1c1c1c" stroke-width="0.9"/>
<line x1="1738.5" y1="1432.0" x2="1741.0" y2="1451.0" stroke="#1c1c1c" stroke-width="0.9"/>
<line x1="1744.0" y1="1432.0" x2="1746.0" y2="1451.0" stroke="#1c1c1c" stroke-width="0.9"/>
<line x1="1749.5" y1="1432.0" x2="1751.0" y2="1451.0" stroke="#1c1c1c" stroke-width="0.9"/>
<line x1="1755.0" y1="1432.0" x2="1756.0" y2="1451.0" stroke="#1c1c1c" stroke-width="0.9"/>
<line x1="836.2" y1="92.0" x2="619.7" y2="239.0" stroke="#2b8fc2" stroke-width="1.8"/>
<line x1="836.2" y1="92.0" x2="703.8" y2="358.8" stroke="#2b8fc2" stroke-width="1.8"/>
<line x1="836.2" y1="92.0" x2="823.2" y2="352.5" stroke="#2b8fc2" stroke-width="1.8"/>
<line x1="98.2" y1="697.9" x2="678.0" y2="613.0" stroke="#2b8fc2" stroke-width="1.8"/>
<line x1="98.2" y1="697.9" x2="480.0" y2="756.0" stroke="#2b8fc2" stroke-width="1.8"/>
<line x1="98.2" y1="697.9" x2="381.0" y2="843.0" stroke="#2b8fc2" stroke-width="1.8"/>
<line x1="524.0" y1="1529.0" x2="590.7" y2="1079.0" stroke="#2b8fc2" stroke-width="1.8"/>
<line x1="524.0" y1="1529.0" x2="694.6" y2="1018.0" stroke="#2b8fc2" stroke-width="1.8"/>
<line x1="712.4" y1="1580.7" x2="966.0" y2="1047.0" stroke="#2b8fc2" stroke-width="1.8"/>
<line x1="1027.6" y1="145.0" x2="918.7" y2="514.2" stroke="#2b8fc2" stroke-width="1.8"/>
<line x1="1032.5" y1="145.0" x2="940.7" y2="573.4" stroke="#2b8fc2" stroke-width="1.8"/>
<line x1="1205.8" y1="191.0" x2="936.3" y2="716.2" stroke="#2b8fc2" stroke-width="1.8"/>
<line x1="1370.8" y1="236.2" x2="1192.4" y2="695.5" stroke="#2b8fc2" stroke-width="1.8"/>
<line x1="1541.5" y1="281.5" x2="1493.9" y2="654.7" stroke="#2b8fc2" stroke-width="1.8"/>
<line x1="1852.5" y1="365.6" x2="1485.2" y2="1028.8" stroke="#2b8fc2" stroke-width="1.8"/>
<line x1="1903.7" y1="528.0" x2="1570.3" y2="1070.8" stroke="#2b8fc2" stroke-width="1.8"/>
<line x1="1903.7" y1="528.0" x2="1654.5" y2="1099.7" stroke="#2b8fc2" stroke-width="1.8"/>
<line x1="1909.0" y1="947.8" x2="1744.8" y2="1010.3" stroke="#2b8fc2" stroke-width="1.8"/>
<line x1="1909.0" y1="947.8" x2="1734.0" y2="1103.2" stroke="#2b8fc2" stroke-width="1.8"/>
<line x1="1902.0" y1="1094.5" x2="1656.6" y2="1149.4" stroke="#2b8fc2" stroke-width="1.8"/>
<line x1="1902.0" y1="1244.7" x2="1657.8" y2="1222.2" stroke="#2b8fc2" stroke-width="1.8"/>
<line x1="1906.8" y1="1347.6" x2="1757.2" y2="1268.4" stroke="#2b8fc2" stroke-width="1.8"/>
<line x1="1913.5" y1="1480.0" x2="1754.8" y2="1347.0" stroke="#2b8fc2" stroke-width="1.8"/>
<line x1="1917.0" y1="1631.5" x2="1737.5" y2="1429.0" stroke="#2b8fc2" stroke-width="1.8"/>
<line x1="1455.4" y1="1778.7" x2="1494.7" y2="1591.3" stroke="#2b8fc2" stroke-width="1.8"/>
<line x1="1621.0" y1="1830.4" x2="1467.0" y2="1271.3" stroke="#2b8fc2" stroke-width="1.8"/>
<line x1="1725.9" y1="1856.9" x2="1605.8" y2="1223.3" stroke="#2b8fc2" stroke-width="1.8"/>
<line x1="1249.5" y1="1724.0" x2="1326.7" y2="1473.6" stroke="#2b8fc2" stroke-width="1.8"/>
<line x1="956.8" y1="1650.8" x2="1107.4" y2="1492.0" stroke="#2b8fc2" stroke-width="1.8"/>
<circle cx="858.2" cy="49.0" r="48.6" fill="#fff" stroke="#000" stroke-width="2.1"/>
<path d="M858.0,24.9 H865.0 V74.2 H857.7 V37.5 Q852.8,41.3 847.3,43.6 V37.5 Q854.3,33.8 858.0,24.9 Z" fill="#000" stroke="#000" stroke-width="0.6"/>
<circle cx="49.4" cy="690.5" r="48.6" fill="#fff" stroke="#000" stroke-width="2.1"/>
<text x="30.2" y="715.7" font-family="Liberation Sans" font-size="69" fill="#000" stroke="#000" stroke-width="0.6">2</text>
<circle cx="508.3" cy="1575.6" r="48.6" fill="#fff" stroke="#000" stroke-width="2.1"/>
<text x="489.1" y="1600.8" font-family="Liberation Sans" font-size="69" fill="#000" stroke="#000" stroke-width="0.6">3</text>
<circle cx="691.2" cy="1624.5" r="48.6" fill="#fff" stroke="#000" stroke-width="2.1"/>
<text x="672.0" y="1649.7" font-family="Liberation Sans" font-size="69" fill="#000" stroke="#000" stroke-width="0.6">4</text>
<circle cx="1042.0" cy="98.3" r="48.6" fill="#fff" stroke="#000" stroke-width="2.1"/>
<text x="1022.8" y="123.5" font-family="Liberation Sans" font-size="69" fill="#000" stroke="#000" stroke-width="0.6">5</text>
<circle cx="1228.3" cy="146.7" r="48.6" fill="#fff" stroke="#000" stroke-width="2.1"/>
<text x="1209.1" y="171.9" font-family="Liberation Sans" font-size="69" fill="#000" stroke="#000" stroke-width="0.6">6</text>
<circle cx="1548.0" cy="233.9" r="48.6" fill="#fff" stroke="#000" stroke-width="2.1"/>
<text x="1528.8" y="259.1" font-family="Liberation Sans" font-size="69" fill="#000" stroke="#000" stroke-width="0.6">7</text>
<circle cx="922.3" cy="1686.8" r="48.6" fill="#fff" stroke="#000" stroke-width="2.1"/>
<text x="903.1" y="1712.0" font-family="Liberation Sans" font-size="69" fill="#000" stroke="#000" stroke-width="0.6">8</text>
<circle cx="1234.7" cy="1770.6" r="48.6" fill="#fff" stroke="#000" stroke-width="2.1"/>
<text x="1215.5" y="1795.8" font-family="Liberation Sans" font-size="69" fill="#000" stroke="#000" stroke-width="0.6">9</text>
<circle cx="1877.7" cy="322.3" r="48.6" fill="#fff" stroke="#000" stroke-width="2.1"/>
<path d="M1858.4,298.2 H1865.4 V347.5 H1858.1 V310.8 Q1853.1,314.6 1847.6,316.9 V310.8 Q1854.6,307.1 1858.4,298.2 Z" fill="#000" stroke="#000" stroke-width="0.6"/>
<text x="1877.7" y="347.5" font-family="Liberation Sans" font-size="69" fill="#000" stroke="#000" stroke-width="0.6">0</text>
<circle cx="1444.3" cy="1826.8" r="48.6" fill="#fff" stroke="#000" stroke-width="2.1"/>
<path d="M1427.5,1802.7 H1434.5 V1852.0 H1427.2 V1815.3 Q1422.3,1819.1 1416.8,1821.4 V1815.3 Q1423.8,1811.6 1427.5,1802.7 Z" fill="#000" stroke="#000" stroke-width="0.6"/>
<path d="M1460.8,1802.7 H1467.8 V1852.0 H1460.5 V1815.3 Q1455.5,1819.1 1450.0,1821.4 V1815.3 Q1457.0,1811.6 1460.8,1802.7 Z" fill="#000" stroke="#000" stroke-width="0.6"/>
<circle cx="1633.8" cy="1877.8" r="48.6" fill="#fff" stroke="#000" stroke-width="2.1"/>
<path d="M1614.5,1853.7 H1621.5 V1903.0 H1614.2 V1866.3 Q1609.2,1870.1 1603.7,1872.4 V1866.3 Q1610.7,1862.6 1614.5,1853.7 Z" fill="#000" stroke="#000" stroke-width="0.6"/>
<text x="1633.8" y="1903.0" font-family="Liberation Sans" font-size="69" fill="#000" stroke="#000" stroke-width="0.6">2</text>
<circle cx="1734.8" cy="1904.8" r="48.6" fill="#fff" stroke="#000" stroke-width="2.1"/>
<path d="M1715.5,1880.7 H1722.5 V1930.0 H1715.2 V1893.3 Q1710.2,1897.1 1704.7,1899.4 V1893.3 Q1711.7,1889.6 1715.5,1880.7 Z" fill="#000" stroke="#000" stroke-width="0.6"/>
<text x="1734.8" y="1930.0" font-family="Liberation Sans" font-size="69" fill="#000" stroke="#000" stroke-width="0.6">3</text>
<circle cx="1938.4" cy="491.7" r="48.6" fill="#fff" stroke="#000" stroke-width="2.1"/>
<path d="M1919.1,467.6 H1926.1 V516.9 H1918.8 V480.2 Q1913.8,484.0 1908.3,486.3 V480.2 Q1915.3,476.5 1919.1,467.6 Z" fill="#000" stroke="#000" stroke-width="0.6"/>
<text x="1938.4" y="516.9" font-family="Liberation Sans" font-size="69" fill="#000" stroke="#000" stroke-width="0.6">4</text>
<circle cx="1950.5" cy="921.2" r="48.6" fill="#fff" stroke="#000" stroke-width="2.1"/>
<path d="M1931.2,897.1 H1938.2 V946.4 H1930.9 V909.7 Q1925.9,913.5 1920.4,915.8 V909.7 Q1927.4,906.0 1931.2,897.1 Z" fill="#000" stroke="#000" stroke-width="0.6"/>
<text x="1950.5" y="946.4" font-family="Liberation Sans" font-size="69" fill="#000" stroke="#000" stroke-width="0.6">5</text>
<circle cx="1950.5" cy="1082.3" r="48.6" fill="#fff" stroke="#000" stroke-width="2.1"/>
<path d="M1931.2,1058.2 H1938.2 V1107.5 H1930.9 V1070.8 Q1925.9,1074.6 1920.4,1076.9 V1070.8 Q1927.4,1067.1 1931.2,1058.2 Z" fill="#000" stroke="#000" stroke-width="0.6"/>
<text x="1950.5" y="1107.5" font-family="Liberation Sans" font-size="69" fill="#000" stroke="#000" stroke-width="0.6">6</text>
<circle cx="1950.5" cy="1249.0" r="48.6" fill="#fff" stroke="#000" stroke-width="2.1"/>
<path d="M1931.2,1224.9 H1938.2 V1274.2 H1930.9 V1237.5 Q1925.9,1241.3 1920.4,1243.6 V1237.5 Q1927.4,1233.8 1931.2,1224.9 Z" fill="#000" stroke="#000" stroke-width="0.6"/>
<text x="1950.5" y="1274.2" font-family="Liberation Sans" font-size="69" fill="#000" stroke="#000" stroke-width="0.6">7</text>
<circle cx="1950.5" cy="1368.2" r="48.6" fill="#fff" stroke="#000" stroke-width="2.1"/>
<path d="M1931.2,1344.1 H1938.2 V1393.4 H1930.9 V1356.7 Q1925.9,1360.5 1920.4,1362.8 V1356.7 Q1927.4,1353.0 1931.2,1344.1 Z" fill="#000" stroke="#000" stroke-width="0.6"/>
<text x="1950.5" y="1393.4" font-family="Liberation Sans" font-size="69" fill="#000" stroke="#000" stroke-width="0.6">8</text>
<circle cx="1950.5" cy="1511.0" r="48.6" fill="#fff" stroke="#000" stroke-width="2.1"/>
<path d="M1931.2,1486.9 H1938.2 V1536.2 H1930.9 V1499.5 Q1925.9,1503.3 1920.4,1505.6 V1499.5 Q1927.4,1495.8 1931.2,1486.9 Z" fill="#000" stroke="#000" stroke-width="0.6"/>
<text x="1950.5" y="1536.2" font-family="Liberation Sans" font-size="69" fill="#000" stroke="#000" stroke-width="0.6">9</text>
<circle cx="1950.5" cy="1669.0" r="48.6" fill="#fff" stroke="#000" stroke-width="2.1"/>
<text x="1912.1" y="1694.2" font-family="Liberation Sans" font-size="69" fill="#000" stroke="#000" stroke-width="0.6">2</text>
<text x="1950.5" y="1694.2" font-family="Liberation Sans" font-size="69" fill="#000" stroke="#000" stroke-width="0.6">0</text>
<circle cx="1390.0" cy="191.2" r="48.6" fill="#fff" stroke="#000" stroke-width="2.1"/>
<text x="1351.6" y="216.4" font-family="Liberation Sans" font-size="69" fill="#000" stroke="#000" stroke-width="0.6">2</text>
<path d="M1409.0,167.1 H1416.0 V216.4 H1408.7 V179.7 Q1403.8,183.5 1398.3,185.8 V179.7 Q1405.3,176.0 1409.0,167.1 Z" fill="#000" stroke="#000" stroke-width="0.6"/>
<g style="mix-blend-mode:multiply">
<path d="M615,918 Q615,893 640,893 H704 V925 H637 V956 H681 V987 H637 V1030 H615 Z" fill="#dcdeeb" fill-rule="evenodd" stroke="none"/>
<path d="M731,893 H753 V997 H812 V1030 H731 Z" fill="#dcdeeb" fill-rule="evenodd" stroke="none"/>
<path d="M832,893 H855 V972 A25.5,30 0 0 0 906,972 V893 H929 V980 A48.5,53 0 0 1 832,980 Z" fill="#dcdeeb" fill-rule="evenodd" stroke="none"/>
<path d="M963,893 H985 V1030 H963 Z" fill="#dcdeeb" fill-rule="evenodd" stroke="none"/>
<path d="M1021,893 H1068 A48,68.5 0 0 1 1068,1030 H1021 Z M1043,923 V997 H1066 A26,37 0 0 0 1066,923 Z" fill="#dcdeeb" fill-rule="evenodd" stroke="none"/>
<path d="M1155,893 H1212 A37,40 0 0 1 1249,933 V1030 H1225 V987 H1177 V1030 H1155 Z M1177,926 V955 H1225 V940 A14,14 0 0 0 1211,926 Z" fill="#dcdeeb" fill-rule="evenodd" stroke="none"/>
<path d="M1276,1030 L1317,893 H1342 L1383,1030 H1359 L1352,1004 A22,20 0 0 0 1307,1004 L1300,1030 Z M1330,928 L1320,967 H1341 Z" fill="#dcdeeb" fill-rule="evenodd" stroke="none"/>
</g></svg></body></html>
